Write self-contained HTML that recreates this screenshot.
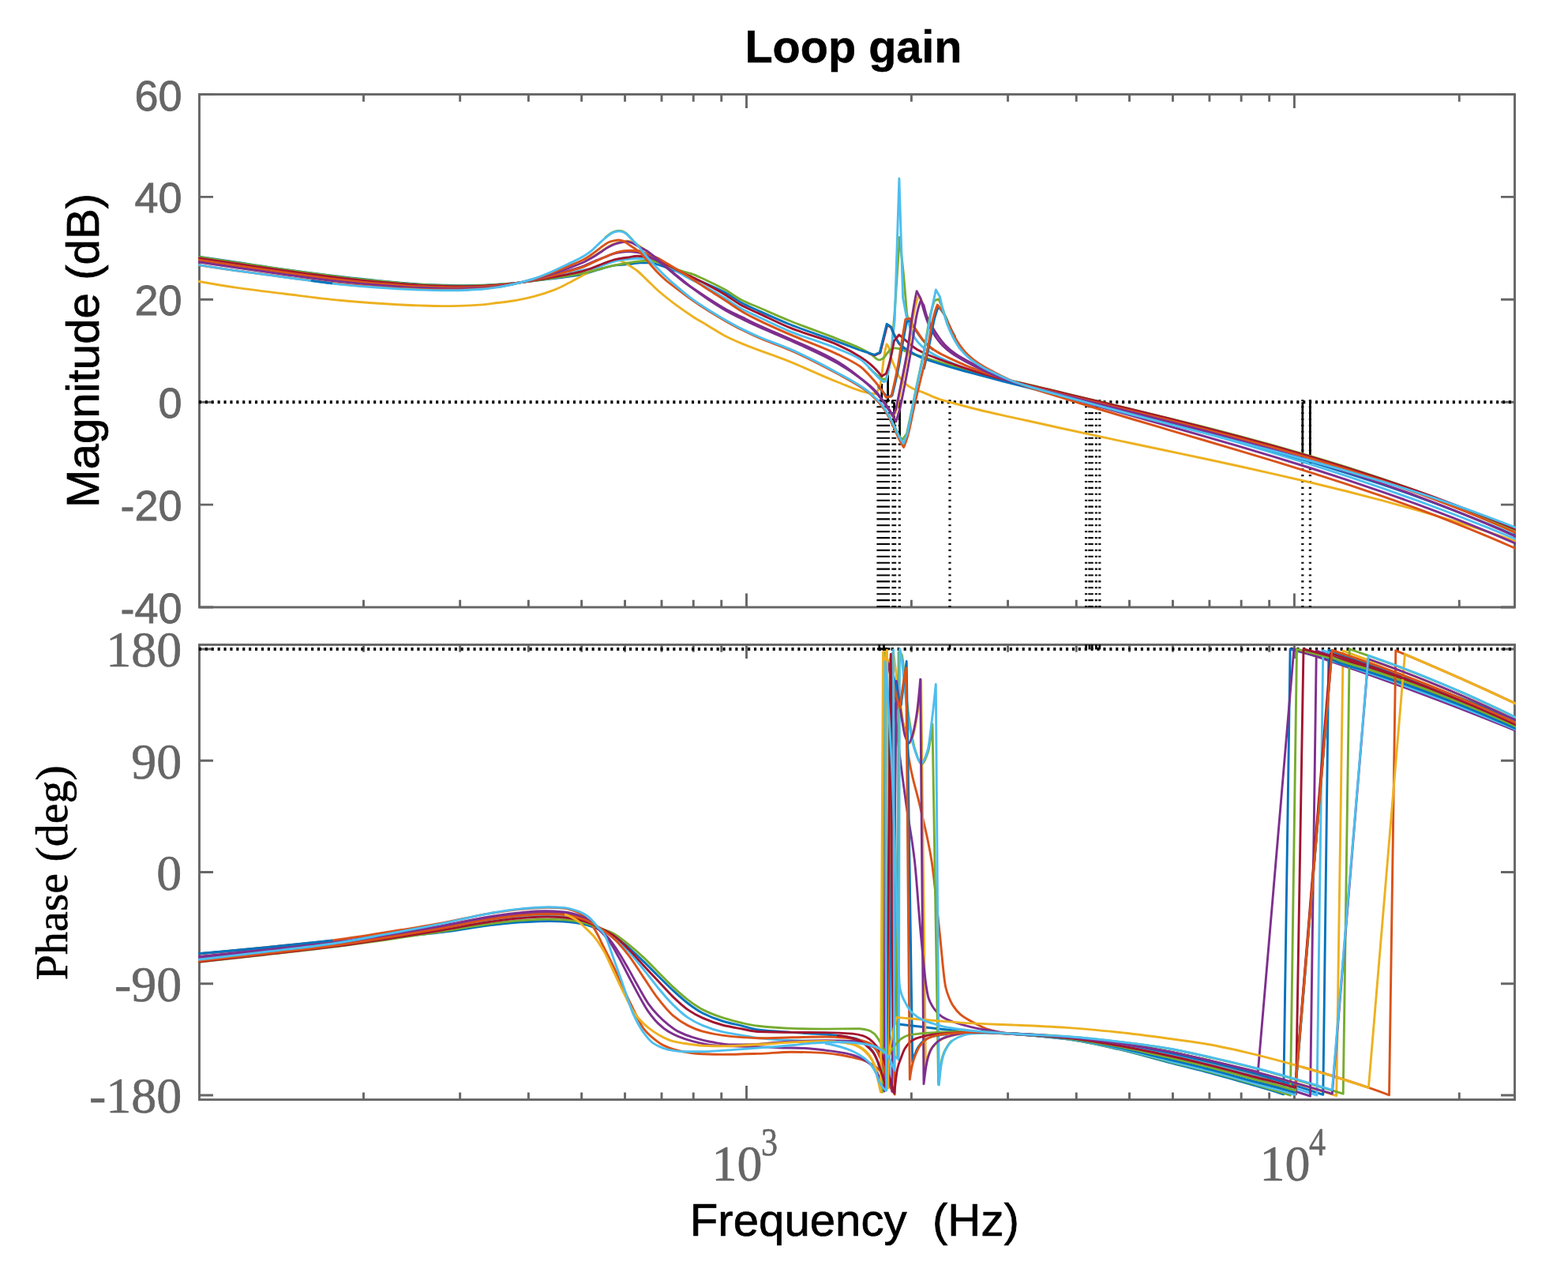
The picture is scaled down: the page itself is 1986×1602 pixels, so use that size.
<!DOCTYPE html>
<html lang="en"><head><meta charset="utf-8"><title>Loop gain</title>
<style>html,body{margin:0;padding:0;background:#fff}body{width:1986px;height:1602px;overflow:hidden}svg{display:block}</style>
</head><body>
<svg xmlns="http://www.w3.org/2000/svg" width="1986" height="1602" viewBox="0 0 1986 1602">
<rect width="1986" height="1602" fill="#fff"/>
<rect x="252.5" y="119.5" width="1666.0" height="649.5" fill="none" stroke="#666666" stroke-width="2.9"/>
<rect x="252.5" y="816.5" width="1666.0" height="576.0999999999999" fill="none" stroke="#666666" stroke-width="2.9"/>
<path d="M460.48 769.0v-9.2M460.48 119.5v9.2M582.67 769.0v-9.2M582.67 119.5v9.2M669.37 769.0v-9.2M669.37 119.5v9.2M736.62 769.0v-9.2M736.62 119.5v9.2M791.56 769.0v-9.2M791.56 119.5v9.2M838.01 769.0v-9.2M838.01 119.5v9.2M878.25 769.0v-9.2M878.25 119.5v9.2M913.75 769.0v-9.2M913.75 119.5v9.2M1154.38 769.0v-9.2M1154.38 119.5v9.2M1276.57 769.0v-9.2M1276.57 119.5v9.2M1363.27 769.0v-9.2M1363.27 119.5v9.2M1430.52 769.0v-9.2M1430.52 119.5v9.2M1485.46 769.0v-9.2M1485.46 119.5v9.2M1531.91 769.0v-9.2M1531.91 119.5v9.2M1572.15 769.0v-9.2M1572.15 119.5v9.2M1607.65 769.0v-9.2M1607.65 119.5v9.2M1848.28 769.0v-9.2M1848.28 119.5v9.2M945.5 769.0v-17.5M945.5 119.5v17.5M1639.4 769.0v-17.5M1639.4 119.5v17.5M460.48 1392.6v-9.2M460.48 816.5v9.2M582.67 1392.6v-9.2M582.67 816.5v9.2M669.37 1392.6v-9.2M669.37 816.5v9.2M736.62 1392.6v-9.2M736.62 816.5v9.2M791.56 1392.6v-9.2M791.56 816.5v9.2M838.01 1392.6v-9.2M838.01 816.5v9.2M878.25 1392.6v-9.2M878.25 816.5v9.2M913.75 1392.6v-9.2M913.75 816.5v9.2M1154.38 1392.6v-9.2M1154.38 816.5v9.2M1276.57 1392.6v-9.2M1276.57 816.5v9.2M1363.27 1392.6v-9.2M1363.27 816.5v9.2M1430.52 1392.6v-9.2M1430.52 816.5v9.2M1485.46 1392.6v-9.2M1485.46 816.5v9.2M1531.91 1392.6v-9.2M1531.91 816.5v9.2M1572.15 1392.6v-9.2M1572.15 816.5v9.2M1607.65 1392.6v-9.2M1607.65 816.5v9.2M1848.28 1392.6v-9.2M1848.28 816.5v9.2M945.5 1392.6v-17.5M945.5 816.5v17.5M1639.4 1392.6v-17.5M1639.4 816.5v17.5M252.5 119.5h17.5M1918.5 119.5h-17.5M252.5 249.4h17.5M1918.5 249.4h-17.5M252.5 379.3h17.5M1918.5 379.3h-17.5M252.5 509.2h17.5M1918.5 509.2h-17.5M252.5 639.1h17.5M1918.5 639.1h-17.5M252.5 769.0h17.5M1918.5 769.0h-17.5M252.5 822.0h17.5M1918.5 822.0h-17.5M252.5 963.25h17.5M1918.5 963.25h-17.5M252.5 1104.5h17.5M1918.5 1104.5h-17.5M252.5 1245.75h17.5M1918.5 1245.75h-17.5M252.5 1387.0h17.5M1918.5 1387.0h-17.5" fill="none" stroke="#666666" stroke-width="2.9"/>
<defs><clipPath id="clipTop"><rect x="251.15" y="118.15" width="1668.7" height="652.2"/></clipPath><clipPath id="clipBot"><rect x="251.15" y="815.15" width="1668.7" height="578.8"/></clipPath></defs>
<g fill="none" stroke="#000">
<path d="M251.90 509.20H1918.5M251.90 822.00H1918.5" stroke-width="4" stroke-dasharray="3.1 4.8"/>
<path d="M1112 506.25V769.0M1114.6 506.25V769.0M1117.2 506.25V769.0M1119.8 506.25V769.0M1122.6 506.25V769.0M1125.4 506.25V769.0M1131 506.25V769.0M1133.6 506.25V769.0M1139.3 506.25V769.0M1203 506.25V769.0M1375.6 506.25V769.0M1379.9 506.25V769.0M1383.2 506.25V769.0M1388.4 506.25V769.0M1392.8 506.25V769.0M1649.8 506.25V769.0M1659.4 506.25V769.0" stroke-width="3.2" stroke-dasharray="2.1 5.8"/>
<path d="M1116.8 486.00V509.20M1124.6 475.00V509.20M1132.5 509.20V545.00M1139.6 509.20V556.00M1649.8 509.20V577.50M1659.4 509.20V580.00" stroke-width="2.7"/>
<path d="M1375.6 816.50V822.60M1379.9 816.50V822.60M1383.2 816.50V822.60M1388.4 816.50V822.60M1392.8 816.50V822.60M1203 816.50V822.60M1113.7 816.5V824.2M1119.5 816.5V824.2" stroke-width="2.7"/>
<path d="M1111 821.80H1127.5" stroke-width="3"/>
</g>
<g clip-path="url(#clipTop)" fill="none" stroke-width="2.9" stroke-linejoin="round" stroke-linecap="butt">
<path d="M250.00 324.90C266.67 327.34 283.33 329.79 300.00 332.25C320.00 335.20 340.00 338.37 360.00 341.13C383.33 344.35 406.67 347.44 430.00 350.18C446.67 352.13 463.33 354.01 480.00 355.60C496.67 357.18 513.33 358.92 530.00 359.84C540.33 360.41 550.67 360.83 561.00 361.16C567.67 361.37 574.33 361.67 581.00 361.67C591.00 361.67 601.00 361.46 611.00 361.22C617.33 361.07 623.67 360.67 630.00 360.29C636.67 359.89 643.33 359.35 650.00 358.72C658.67 357.92 667.33 356.69 676.00 355.66C684.00 354.71 692.00 353.75 700.00 352.78C706.67 351.97 713.33 351.26 720.00 350.34C726.67 349.41 733.33 348.60 740.00 347.11C743.33 346.37 746.67 344.88 750.00 343.90C760.07 340.93 770.13 337.15 780.20 335.90C786.47 335.12 792.73 334.92 799.00 334.30C803.07 333.90 807.13 332.90 811.20 332.90C815.27 332.90 819.33 332.90 823.40 332.90C826.10 332.90 828.80 333.91 831.50 334.60C834.20 335.29 836.90 336.27 839.60 337.20C842.30 338.13 845.00 339.18 847.70 340.20C852.57 342.03 857.43 343.87 862.30 345.80C871.70 349.53 881.10 353.38 890.50 357.50C899.90 361.62 909.30 365.55 918.70 370.60C925.73 374.38 932.77 380.05 939.80 383.80C946.53 387.39 953.27 390.16 960.00 393.20C973.60 399.35 987.20 405.60 1000.80 411.00C1020.97 419.01 1041.13 425.32 1061.30 432.80C1070.87 436.35 1080.43 440.01 1090.00 443.70" stroke="#0072BD"/>
<path d="M250.00 356.10C266.67 359.16 283.33 362.00 300.00 364.40C320.00 367.29 340.00 369.55 360.00 372.00C383.33 374.86 406.67 378.09 430.00 380.30C446.67 381.88 463.33 383.25 480.00 384.30C496.67 385.35 513.33 386.39 530.00 386.90C540.33 387.22 550.67 387.60 561.00 387.60C567.67 387.60 574.33 387.51 581.00 387.40C591.00 387.24 601.00 386.64 611.00 385.90C617.33 385.43 623.67 384.30 630.00 383.50C636.67 382.66 643.33 382.04 650.00 381.00C658.80 379.63 667.60 377.66 676.40 375.40C685.13 373.16 693.87 370.33 702.60 366.90C708.43 364.61 714.27 361.47 720.10 358.50C726.83 355.07 733.57 351.18 740.30 347.50C747.00 343.84 753.70 340.00 760.40 336.50C763.77 334.74 767.13 332.42 770.50 331.40C773.53 330.48 776.57 329.40 779.60 329.40C781.73 329.40 783.87 329.76 786.00 330.20C787.53 330.51 789.07 331.60 790.60 332.40C792.07 333.16 793.53 334.01 795.00 334.90C799.07 337.36 803.13 339.83 807.20 343.00C811.23 346.14 815.27 350.58 819.30 354.40C824.23 359.07 829.17 364.18 834.10 368.50C841.13 374.65 848.17 380.15 855.20 385.40C862.27 390.67 869.33 395.63 876.40 400.20C883.43 404.75 890.47 408.67 897.50 412.90C904.33 417.01 911.17 421.65 918.00 425.20C925.47 429.07 932.93 432.27 940.40 435.40C960.53 443.83 980.67 450.14 1000.80 458.20C1020.97 466.28 1041.13 476.16 1061.30 484.00C1073.37 488.69 1085.43 494.62 1097.50 497.10C1101.53 497.93 1105.57 498.57 1109.60 499.00L1115.00 487.40C1115.60 483.41 1116.20 479.28 1116.80 474.90C1117.87 467.11 1118.93 456.12 1120.00 450.00C1121.03 444.08 1122.07 438.96 1123.10 435.90L1126.20 440.60C1127.03 445.42 1127.87 450.12 1128.70 453.00C1130.37 458.75 1132.03 461.54 1133.70 465.50C1135.37 469.46 1137.03 474.19 1138.70 476.80C1141.20 480.72 1143.70 483.36 1146.20 485.50C1149.30 488.15 1152.40 490.15 1155.50 491.70C1160.33 494.11 1165.17 495.37 1170.00 497.30C1176.67 499.96 1183.33 503.38 1190.00 505.60C1194.33 507.04 1198.67 508.11 1203.00 509.30C1215.33 512.69 1227.67 515.99 1240.00 519.00C1253.33 522.25 1266.67 525.12 1280.00 528.10C1286.67 529.59 1293.33 531.03 1300.00 532.50C1315.00 535.81 1330.00 539.21 1345.00 542.49C1360.00 545.77 1375.00 548.98 1390.00 552.19C1405.00 555.40 1420.00 558.55 1435.00 561.73C1450.00 564.90 1465.00 568.04 1480.00 571.21C1495.00 574.39 1510.00 577.55 1525.00 580.77C1540.00 583.99 1555.00 587.22 1570.00 590.51C1585.00 593.81 1600.00 597.14 1615.00 600.56C1630.00 603.97 1645.00 607.45 1660.00 611.02C1675.00 614.60 1690.00 618.25 1705.00 622.02C1720.00 625.79 1735.00 629.66 1750.00 633.67C1765.00 637.68 1780.00 641.81 1795.00 646.09C1810.00 650.38 1825.00 654.81 1840.00 659.40C1855.00 664.00 1870.00 668.78 1885.00 673.72C1897.00 677.67 1909.00 681.77 1921.00 685.97" stroke="#EDB120"/>
<path d="M1100.00 465.00C1104.00 469.30 1108.00 472.94 1112.00 476.00C1114.23 477.71 1116.47 479.20 1118.70 480.50L1122.50 479.50L1128.00 457.00L1133.40 392.00L1139.40 300.50L1144.70 350.00L1148.60 397.00C1149.90 403.37 1151.20 409.23 1152.50 413.00C1154.33 418.31 1156.17 423.06 1158.00 425.00" stroke="#77AC30"/>
<path d="M250.00 327.00C266.67 329.51 283.33 332.00 300.00 334.45C320.00 337.40 340.00 340.46 360.00 343.21C383.33 346.42 406.67 349.64 430.00 352.31C446.67 354.22 463.33 356.00 480.00 357.49C496.67 358.98 513.33 360.59 530.00 361.42C540.33 361.94 550.67 362.35 561.00 362.62C567.67 362.79 574.33 363.03 581.00 363.03C591.00 363.03 601.00 362.69 611.00 362.35C617.33 362.13 623.67 361.62 630.00 361.11C636.67 360.58 643.33 359.84 650.00 359.02C658.67 357.95 667.33 356.50 676.00 355.05C684.00 353.71 692.00 352.19 700.00 350.64C706.67 349.35 713.33 348.05 720.00 346.57C726.67 345.10 733.33 342.81 740.00 341.71C743.33 341.16 746.67 340.98 750.00 340.40C760.00 338.65 770.00 332.38 780.00 330.50C785.00 329.56 790.00 328.97 795.00 328.40C799.07 327.93 803.13 327.20 807.20 327.20C811.23 327.20 815.27 327.36 819.30 327.60C822.03 327.76 824.77 328.52 827.50 329.20C830.20 329.87 832.90 330.93 835.60 332.00C840.40 333.90 845.20 336.33 850.00 338.90C856.00 342.11 862.00 346.53 868.00 349.90C875.50 354.11 883.00 357.43 890.50 361.50C899.90 366.60 909.30 371.97 918.70 377.70C925.73 381.98 932.77 387.43 939.80 391.30C946.53 395.00 953.27 397.83 960.00 401.00C973.60 407.41 987.20 414.23 1000.80 419.80C1020.97 428.06 1041.13 433.37 1061.30 441.80C1070.87 445.80 1080.43 449.11 1090.00 455.40C1094.17 458.14 1098.33 462.94 1102.50 467.10C1106.67 471.26 1110.83 477.02 1115.00 480.50C1116.43 481.70 1117.87 482.70 1119.30 483.60L1122.40 482.40L1127.50 460.00L1133.20 405.00L1138.90 226.00L1143.60 377.00L1148.40 402.40C1149.67 406.50 1150.93 410.34 1152.20 413.70C1153.77 417.86 1155.33 422.04 1156.90 424.90C1159.07 428.85 1161.23 431.87 1163.40 434.30C1166.53 437.81 1169.67 440.42 1172.80 442.70C1177.47 446.09 1182.13 448.67 1186.80 451.10C1193.03 454.35 1199.27 456.93 1205.50 459.60C1213.67 463.10 1221.83 466.59 1230.00 469.50C1240.00 473.07 1250.00 476.12 1260.00 479.00C1273.33 482.84 1286.67 486.10 1300.00 489.50C1315.00 493.33 1330.00 496.90 1345.00 500.65C1360.00 504.41 1375.00 508.19 1390.00 512.02C1405.00 515.86 1420.00 519.74 1435.00 523.68C1450.00 527.62 1465.00 531.60 1480.00 535.66C1495.00 539.72 1510.00 543.84 1525.00 548.05C1540.00 552.25 1555.00 556.52 1570.00 560.89C1585.00 565.25 1600.00 569.69 1615.00 574.24C1630.00 578.78 1645.00 583.42 1660.00 588.16C1675.00 592.90 1690.00 597.75 1705.00 602.71C1720.00 607.68 1735.00 612.76 1750.00 617.96C1765.00 623.16 1780.00 628.49 1795.00 633.95C1810.00 639.41 1825.00 645.01 1840.00 650.75C1855.00 656.49 1870.00 662.38 1885.00 668.41C1897.00 673.23 1909.00 678.17 1921.00 683.20" stroke="#4DBEEE"/>
<path d="M250.00 325.20C266.67 327.66 283.33 330.13 300.00 332.60C320.00 335.56 340.00 338.72 360.00 341.50C383.33 344.74 406.67 347.86 430.00 350.60C446.67 352.56 463.33 354.43 480.00 356.00C496.67 357.57 513.33 359.29 530.00 360.20C540.33 360.76 550.67 361.18 561.00 361.50C567.67 361.71 574.33 362.00 581.00 362.00C591.00 362.00 601.00 361.76 611.00 361.50C617.33 361.33 623.67 360.91 630.00 360.50C636.67 360.07 643.33 359.47 650.00 358.80C658.67 357.93 667.33 356.64 676.00 355.50C684.00 354.44 692.00 353.33 700.00 352.20C706.67 351.26 713.33 350.38 720.00 349.30C726.67 348.22 733.33 346.95 740.00 345.60C743.33 344.92 746.67 344.21 750.00 343.40C755.00 342.19 760.00 340.58 765.00 339.30C770.00 338.02 775.00 336.73 780.00 335.70C785.00 334.67 790.00 333.81 795.00 333.00C799.07 332.34 803.13 331.60 807.20 331.20C811.23 330.80 815.27 330.30 819.30 330.30C822.03 330.30 824.77 330.53 827.50 330.80C830.20 331.07 832.90 332.10 835.60 332.90C838.30 333.70 841.00 334.71 843.70 335.70C847.77 337.19 851.83 338.95 855.90 340.50C858.60 341.53 861.30 342.65 864.00 343.50C867.67 344.66 871.33 345.30 875.00 346.50C880.17 348.19 885.33 350.66 890.50 353.00C899.90 357.25 909.30 361.85 918.70 367.10C925.73 371.03 932.77 376.72 939.80 380.30C946.53 383.73 953.27 386.11 960.00 389.00C973.60 394.85 987.20 401.00 1000.80 406.50C1020.97 414.66 1041.13 421.53 1061.30 429.50C1070.87 433.28 1080.43 436.66 1090.00 441.20C1094.17 443.18 1098.33 445.43 1102.50 448.00C1106.23 450.30 1109.97 455.90 1113.70 455.90C1115.37 455.90 1117.03 454.79 1118.70 453.70C1120.37 452.61 1122.03 449.26 1123.70 447.40C1125.37 445.54 1127.03 443.17 1128.70 442.40C1130.37 441.63 1132.03 440.90 1133.70 440.90C1135.77 440.90 1137.83 441.35 1139.90 441.80C1142.00 442.26 1144.10 443.71 1146.20 444.60C1148.27 445.47 1150.33 446.37 1152.40 447.10C1158.27 449.17 1164.13 450.59 1170.00 452.40C1175.60 454.13 1181.20 455.99 1186.80 457.70C1196.17 460.57 1205.53 463.37 1214.90 466.00C1224.27 468.63 1233.63 471.17 1243.00 473.50C1252.33 475.82 1261.67 477.90 1271.00 480.00C1280.67 482.17 1290.33 484.10 1300.00 486.30C1315.00 489.71 1330.00 493.55 1345.00 497.15C1360.00 500.74 1375.00 504.30 1390.00 507.88C1405.00 511.46 1420.00 515.03 1435.00 518.64C1450.00 522.26 1465.00 525.87 1480.00 529.56C1495.00 533.25 1510.00 536.97 1525.00 540.78C1540.00 544.59 1555.00 548.46 1570.00 552.44C1585.00 556.41 1600.00 560.47 1615.00 564.66C1630.00 568.84 1645.00 573.14 1660.00 577.58C1675.00 582.02 1690.00 586.60 1705.00 591.34C1720.00 596.09 1735.00 600.99 1750.00 606.08C1765.00 611.17 1780.00 616.45 1795.00 621.93C1810.00 627.42 1825.00 633.11 1840.00 639.03C1855.00 644.95 1870.00 651.12 1885.00 657.51C1897.00 662.62 1909.00 667.93 1921.00 673.38" stroke="#77AC30"/>
<path d="M1100.00 447.30L1107.90 450.00L1114.90 446.60L1123.80 411.30L1128.80 414.80C1130.63 419.69 1132.47 424.06 1134.30 427.50C1136.20 431.07 1138.10 434.53 1140.00 436.50C1142.33 438.92 1144.67 441.09 1147.00 441.80" stroke="#A2142F"/>
<path d="M1090.00 443.70L1107.50 449.30L1114.30 446.20L1123.10 410.30L1128.10 413.40C1129.97 418.23 1131.83 422.59 1133.70 426.20C1135.57 429.81 1137.43 433.53 1139.30 435.60C1141.60 438.15 1143.90 439.62 1146.20 441.20C1148.27 442.62 1150.33 443.70 1152.40 444.90C1156.07 447.03 1159.73 449.44 1163.40 451.10C1171.20 454.64 1179.00 457.03 1186.80 459.60C1196.17 462.68 1205.53 465.36 1214.90 468.00C1224.27 470.64 1233.63 473.00 1243.00 475.50C1252.37 478.00 1261.73 480.55 1271.10 483.00C1280.73 485.52 1290.37 487.96 1300.00 490.40C1315.00 494.20 1330.00 497.94 1345.00 501.69C1360.00 505.44 1375.00 509.16 1390.00 512.90C1405.00 516.64 1420.00 520.37 1435.00 524.15C1450.00 527.92 1465.00 531.70 1480.00 535.54C1495.00 539.39 1510.00 543.26 1525.00 547.21C1540.00 551.15 1555.00 555.15 1570.00 559.24C1585.00 563.34 1600.00 567.50 1615.00 571.78C1630.00 576.05 1645.00 580.42 1660.00 584.92C1675.00 589.41 1690.00 594.02 1705.00 598.77C1720.00 603.53 1735.00 608.42 1750.00 613.47C1765.00 618.52 1780.00 623.72 1795.00 629.11C1810.00 634.49 1825.00 640.05 1840.00 645.81C1855.00 651.57 1870.00 657.53 1885.00 663.69C1897.00 668.61 1909.00 673.70 1921.00 678.91" stroke="#0072BD"/>
<path d="M250.00 326.50C266.67 329.00 283.33 331.48 300.00 333.94C320.00 336.89 340.00 339.97 360.00 342.74C383.33 345.96 406.67 349.14 430.00 351.84C446.67 353.76 463.33 355.57 480.00 357.08C496.67 358.59 513.33 360.23 530.00 361.08C540.33 361.62 550.67 362.02 561.00 362.31C567.67 362.49 574.33 362.74 581.00 362.74C591.00 362.74 601.00 362.44 611.00 362.11C617.33 361.91 623.67 361.42 630.00 360.94C636.67 360.44 643.33 359.74 650.00 358.96C658.67 357.94 667.33 356.54 676.00 355.18C684.00 353.92 692.00 352.50 700.00 351.07C706.67 349.88 713.33 348.70 720.00 347.33C726.67 345.96 733.33 344.65 740.00 342.79C743.33 341.87 746.67 340.61 750.00 339.40C755.03 337.57 760.07 335.24 765.10 333.40C770.13 331.56 775.17 329.37 780.20 328.30C785.13 327.25 790.07 326.72 795.00 326.00C799.07 325.40 803.13 324.30 807.20 324.30C809.90 324.30 812.60 324.48 815.30 324.70C818.00 324.92 820.70 325.69 823.40 326.40C826.10 327.11 828.80 328.17 831.50 329.20C835.57 330.75 839.63 332.55 843.70 334.50C847.77 336.45 851.83 338.89 855.90 341.00C859.93 343.09 863.97 345.21 868.00 347.10C870.80 348.41 873.60 349.49 876.40 350.80C883.43 354.08 890.47 357.75 897.50 361.50C904.57 365.27 911.63 369.16 918.70 373.40C925.73 377.62 932.77 383.20 939.80 387.00C946.53 390.63 953.27 393.28 960.00 396.40C973.60 402.70 987.20 409.68 1000.80 415.20C1020.97 423.38 1041.13 427.97 1061.30 436.80C1070.87 440.99 1080.43 446.03 1090.00 452.10C1094.17 454.75 1098.33 457.79 1102.50 461.40C1107.27 465.53 1112.03 470.62 1116.80 476.40L1122.40 473.00C1124.07 468.67 1125.73 462.83 1127.40 456.20C1129.07 449.57 1130.73 441.20 1132.40 431.80L1138.70 424.00C1140.13 425.15 1141.57 426.30 1143.00 427.50C1146.13 430.11 1149.27 432.96 1152.40 435.60C1154.50 437.37 1156.60 439.40 1158.70 440.80C1163.40 443.93 1168.10 446.15 1172.80 448.30C1177.47 450.43 1182.13 452.14 1186.80 453.90C1193.03 456.24 1199.27 458.36 1205.50 460.50C1214.87 463.72 1224.23 467.00 1233.60 469.90C1242.40 472.62 1251.20 475.22 1260.00 477.50C1273.33 480.96 1286.67 483.68 1300.00 486.80C1315.00 490.31 1330.00 493.88 1345.00 497.43C1360.00 500.98 1375.00 504.52 1390.00 508.10C1405.00 511.68 1420.00 515.27 1435.00 518.91C1450.00 522.55 1465.00 526.22 1480.00 529.96C1495.00 533.69 1510.00 537.47 1525.00 541.33C1540.00 545.20 1555.00 549.12 1570.00 553.14C1585.00 557.16 1600.00 561.26 1615.00 565.47C1630.00 569.68 1645.00 573.99 1660.00 578.42C1675.00 582.86 1690.00 587.40 1705.00 592.09C1720.00 596.78 1735.00 601.61 1750.00 606.58C1765.00 611.56 1780.00 616.69 1795.00 621.98C1810.00 627.28 1825.00 632.75 1840.00 638.40C1855.00 644.05 1870.00 649.89 1885.00 655.91C1897.00 660.73 1909.00 665.71 1921.00 670.79" stroke="#A2142F"/>
<path d="M250.00 329.40C266.67 331.97 283.33 334.48 300.00 336.93C320.00 339.86 340.00 342.77 360.00 345.49C383.33 348.67 406.67 352.00 430.00 354.59C446.67 356.44 463.33 358.11 480.00 359.49C496.67 360.86 513.33 362.31 530.00 363.06C540.33 363.52 550.67 363.90 561.00 364.10C567.67 364.24 574.33 364.39 581.00 364.39C591.00 364.39 601.00 363.94 611.00 363.47C617.33 363.18 623.67 362.56 630.00 361.93C636.67 361.26 643.33 360.32 650.00 359.30C658.67 357.98 667.33 356.29 676.00 354.45C684.00 352.75 692.00 350.66 700.00 348.56C706.67 346.81 713.33 344.94 720.00 342.94C726.67 340.94 733.33 339.03 740.00 336.53C743.33 335.28 746.67 333.61 750.00 332.20C755.00 330.08 760.00 327.93 765.00 326.00C770.07 324.04 775.13 321.50 780.20 320.50C785.13 319.53 790.07 318.50 795.00 318.50C799.07 318.50 803.13 318.97 807.20 319.50C809.80 319.84 812.40 320.66 815.00 321.50C817.33 322.25 819.67 323.42 822.00 324.50C824.67 325.73 827.33 326.95 830.00 328.50C833.33 330.43 836.67 332.80 840.00 335.50" stroke="#7E2F8E"/>
<path d="M1112.00 489.00L1124.00 503.00L1130.00 501.00C1131.67 494.51 1133.33 487.45 1135.00 480.00C1136.33 474.04 1137.67 468.04 1139.00 461.00C1140.67 452.20 1142.33 440.40 1144.00 431.00C1145.50 422.54 1147.00 414.53 1148.50 407.00L1153.60 406.60C1154.90 409.21 1156.20 411.69 1157.50 414.00C1159.00 416.67 1160.50 419.29 1162.00 421.50C1165.33 426.41 1168.67 430.85 1172.00 434.30C1175.33 437.75 1178.67 440.78 1182.00 443.00" stroke="#0072BD"/>
<path d="M250.00 328.90C266.67 331.46 283.33 333.96 300.00 336.41C320.00 339.35 340.00 342.28 360.00 345.01C383.33 348.20 406.67 351.51 430.00 354.12C446.67 355.98 463.33 357.67 480.00 359.07C496.67 360.47 513.33 361.95 530.00 362.72C540.33 363.19 550.67 363.58 561.00 363.79C567.67 363.93 574.33 364.11 581.00 364.11C591.00 364.11 601.00 363.68 611.00 363.24C617.33 362.96 623.67 362.37 630.00 361.76C636.67 361.12 643.33 360.22 650.00 359.24C658.67 357.97 667.33 356.33 676.00 354.57C684.00 352.95 692.00 350.98 700.00 348.99C706.67 347.34 713.33 345.59 720.00 343.70C726.67 341.81 733.33 340.13 740.00 337.61C743.33 336.35 746.67 334.44 750.00 332.90C753.37 331.34 756.73 329.82 760.10 328.30C763.43 326.79 766.77 325.20 770.10 323.80C773.47 322.38 776.83 320.75 780.20 319.80C783.57 318.85 786.93 317.88 790.30 317.60C792.80 317.39 795.30 317.20 797.80 317.20C800.93 317.20 804.07 317.31 807.20 317.50C809.23 317.62 811.27 318.49 813.30 319.10C816.67 320.10 820.03 321.42 823.40 322.70C826.10 323.73 828.80 324.74 831.50 326.00C834.20 327.26 836.90 328.85 839.60 330.40C842.30 331.95 845.00 333.68 847.70 335.30C850.43 336.94 853.17 338.57 855.90 340.20C858.60 341.81 861.30 343.32 864.00 345.00C868.13 347.57 872.27 350.47 876.40 353.20C883.43 357.84 890.47 362.56 897.50 367.10C904.57 371.66 911.63 375.94 918.70 380.50C925.73 385.04 932.77 390.27 939.80 394.40C946.53 398.35 953.27 401.77 960.00 405.10C973.60 411.82 987.20 417.76 1000.80 423.70C1020.97 432.50 1041.13 439.24 1061.30 448.90C1070.87 453.48 1080.43 457.54 1090.00 464.50C1094.17 467.53 1098.33 472.31 1102.50 476.80C1106.67 481.29 1110.83 486.01 1115.00 491.70C1117.50 495.12 1120.00 499.15 1122.50 503.40L1128.70 502.20C1130.37 495.89 1132.03 488.70 1133.70 481.00C1134.93 475.30 1136.17 469.23 1137.40 462.40C1139.07 453.17 1140.73 441.47 1142.40 431.20C1143.87 422.16 1145.33 413.23 1146.80 404.40L1152.40 403.10C1153.63 405.79 1154.87 408.33 1156.10 410.60C1157.57 413.30 1159.03 415.69 1160.50 418.00C1163.67 422.98 1166.83 428.17 1170.00 431.80C1172.50 434.67 1175.00 436.97 1177.50 439.00C1180.60 441.52 1183.70 443.65 1186.80 445.50C1193.03 449.21 1199.27 451.95 1205.50 454.90C1211.77 457.86 1218.03 460.76 1224.30 463.30C1233.67 467.10 1243.03 470.37 1252.40 473.60C1259.93 476.20 1267.47 478.72 1275.00 481.00C1283.33 483.52 1291.67 485.81 1300.00 488.00C1315.00 491.95 1330.00 495.39 1345.00 499.05C1360.00 502.71 1375.00 506.33 1390.00 509.97C1405.00 513.61 1420.00 517.23 1435.00 520.90C1450.00 524.56 1465.00 528.23 1480.00 531.97C1495.00 535.70 1510.00 539.46 1525.00 543.31C1540.00 547.15 1555.00 551.05 1570.00 555.05C1585.00 559.05 1600.00 563.13 1615.00 567.33C1630.00 571.53 1645.00 575.83 1660.00 580.28C1675.00 584.73 1690.00 589.30 1705.00 594.03C1720.00 598.77 1735.00 603.65 1750.00 608.72C1765.00 613.79 1780.00 619.03 1795.00 624.48C1810.00 629.92 1825.00 635.57 1840.00 641.43C1855.00 647.30 1870.00 653.40 1885.00 659.72C1897.00 664.77 1909.00 670.01 1921.00 675.39" stroke="#D95319"/>
<path d="M740.00 331.30C743.33 329.52 746.67 327.61 750.00 325.60C753.37 323.56 756.73 321.29 760.10 319.10C763.43 316.93 766.77 314.27 770.10 312.50C773.47 310.71 776.83 309.10 780.20 308.00C782.73 307.17 785.27 306.44 787.80 306.00C789.80 305.65 791.80 305.20 793.80 305.20C796.00 305.20 798.20 305.75 800.40 306.30C802.27 306.77 804.13 307.95 806.00 309.00C808.33 310.31 810.67 312.17 813.00 313.80C815.67 315.66 818.33 317.56 821.00 319.50" stroke="#EDB120"/>
<path d="M1120.00 509.00L1131.50 527.50L1136.00 518.00C1138.17 507.82 1140.33 497.23 1142.50 486.20C1145.17 472.62 1147.83 459.45 1150.50 443.60C1152.83 429.73 1155.17 408.05 1157.50 396.80C1159.40 387.64 1161.30 379.83 1163.20 375.00L1168.00 382.00C1169.67 388.96 1171.33 395.25 1173.00 400.00C1175.00 405.70 1177.00 410.13 1179.00 414.00C1181.33 418.52 1183.67 422.53 1186.00 425.50" stroke="#EDB120"/>
<path d="M840.00 335.50C843.93 338.79 847.87 342.06 851.80 345.30C857.20 349.74 862.60 354.50 868.00 358.50C870.80 360.57 873.60 362.41 876.40 364.30C883.43 369.04 890.47 373.63 897.50 378.10C904.57 382.59 911.63 387.33 918.70 391.20C925.73 395.06 932.77 398.14 939.80 401.60C946.53 404.91 953.27 408.37 960.00 411.50C973.60 417.82 987.20 423.11 1000.80 429.30C1020.97 438.48 1041.13 446.27 1061.30 458.30C1073.37 465.50 1085.43 474.93 1097.50 485.50C1102.33 489.73 1107.17 494.38 1112.00 500.00C1116.00 504.65 1120.00 510.62 1124.00 516.50C1127.63 521.85 1131.27 527.62 1134.90 533.70L1139.90 517.50C1142.00 507.53 1144.10 497.11 1146.20 486.20C1148.80 472.69 1151.40 458.75 1154.00 443.60C1156.50 429.03 1159.00 407.52 1161.50 396.80C1163.07 390.08 1164.63 384.48 1166.20 380.90L1170.00 386.50C1171.53 392.80 1173.07 398.59 1174.60 402.40C1176.73 407.70 1178.87 410.83 1181.00 414.50C1183.33 418.51 1185.67 422.23 1188.00 425.50C1191.33 430.17 1194.67 434.65 1198.00 438.00C1202.00 442.02 1206.00 445.22 1210.00 448.00C1216.00 452.17 1222.00 455.27 1228.00 458.50C1234.33 461.91 1240.67 465.03 1247.00 468.00C1255.33 471.91 1263.67 475.80 1272.00 479.00C1281.33 482.58 1290.67 485.76 1300.00 488.50C1315.00 492.91 1330.00 496.15 1345.00 499.93C1360.00 503.72 1375.00 507.45 1390.00 511.21C1405.00 514.97 1420.00 518.70 1435.00 522.48C1450.00 526.25 1465.00 530.03 1480.00 533.86C1495.00 537.70 1510.00 541.56 1525.00 545.50C1540.00 549.45 1555.00 553.44 1570.00 557.53C1585.00 561.63 1600.00 565.80 1615.00 570.09C1630.00 574.39 1645.00 578.78 1660.00 583.31C1675.00 587.85 1690.00 592.51 1705.00 597.33C1720.00 602.16 1735.00 607.13 1750.00 612.29C1765.00 617.44 1780.00 622.78 1795.00 628.31C1810.00 633.85 1825.00 639.58 1840.00 645.54C1855.00 651.50 1870.00 657.70 1885.00 664.11C1897.00 669.24 1909.00 674.56 1921.00 680.02" stroke="#7E2F8E"/>
<path d="M250.00 331.60C266.67 334.22 283.33 336.76 300.00 339.19C320.00 342.11 340.00 344.88 360.00 347.58C383.33 350.73 406.67 354.18 430.00 356.68C446.67 358.47 463.33 360.04 480.00 361.31C496.67 362.58 513.33 363.89 530.00 364.55C540.33 364.96 550.67 365.33 561.00 365.47C567.67 365.56 574.33 365.65 581.00 365.65C591.00 365.65 601.00 365.07 611.00 364.51C617.33 364.15 623.67 363.43 630.00 362.68C636.67 361.88 643.33 360.77 650.00 359.57C658.67 358.01 667.33 356.10 676.00 353.90C684.00 351.87 692.00 349.26 700.00 346.65C706.67 344.48 713.33 342.08 720.00 339.61C726.67 337.14 733.33 334.88 740.00 331.78C743.33 330.23 746.67 328.27 750.00 326.30C753.37 324.31 756.73 321.99 760.10 319.80C763.43 317.63 766.77 314.97 770.10 313.20C773.47 311.41 776.83 309.80 780.20 308.70C782.73 307.87 785.27 307.14 787.80 306.70C789.80 306.35 791.80 305.90 793.80 305.90C795.87 305.90 797.93 306.71 800.00 307.40C801.03 307.75 802.07 308.37 803.10 308.90C805.80 310.28 808.50 311.92 811.20 313.40C813.90 314.88 816.60 316.11 819.30 317.80C822.03 319.52 824.77 321.73 827.50 323.90C830.20 326.04 832.90 328.50 835.60 330.80C838.30 333.10 841.00 335.40 843.70 337.70C846.40 340.00 849.10 342.37 851.80 344.60C854.50 346.83 857.20 348.93 859.90 351.10C862.60 353.27 865.30 355.42 868.00 357.60C870.80 359.86 873.60 362.25 876.40 364.40C883.43 369.81 890.47 374.88 897.50 379.60C904.57 384.34 911.63 388.88 918.70 392.90C925.73 396.90 932.77 400.40 939.80 403.90C946.53 407.25 953.27 410.45 960.00 413.50C973.60 419.67 987.20 424.84 1000.80 431.00C1020.97 440.14 1041.13 448.80 1061.30 460.30C1071.90 466.35 1082.50 473.40 1093.10 481.50C1098.30 485.48 1103.50 489.56 1108.70 495.00C1112.87 499.36 1117.03 505.33 1121.20 511.20C1124.53 515.89 1127.87 521.05 1131.20 526.50L1134.90 517.50C1137.00 507.27 1139.10 496.86 1141.20 486.20C1143.93 472.33 1146.67 460.20 1149.40 443.60C1151.57 430.44 1153.73 410.11 1155.90 396.80C1157.63 386.15 1159.37 376.68 1161.10 368.70L1166.20 378.10C1168.07 385.94 1169.93 392.97 1171.80 398.70C1173.70 404.53 1175.60 409.73 1177.50 413.70C1179.67 418.23 1181.83 421.69 1184.00 424.90C1187.43 429.98 1190.87 434.52 1194.30 438.00C1198.03 441.79 1201.77 444.76 1205.50 447.40C1211.77 451.83 1218.03 455.18 1224.30 458.60C1230.53 462.00 1236.77 465.11 1243.00 468.00C1252.00 472.17 1261.00 476.22 1270.00 479.50C1280.00 483.14 1290.00 486.00 1300.00 489.00C1315.00 493.50 1330.00 497.53 1345.00 501.75C1360.00 505.98 1375.00 510.16 1390.00 514.35C1405.00 518.54 1420.00 522.71 1435.00 526.91C1450.00 531.10 1465.00 535.29 1480.00 539.52C1495.00 543.76 1510.00 548.00 1525.00 552.31C1540.00 556.61 1555.00 560.95 1570.00 565.37C1585.00 569.79 1600.00 574.25 1615.00 578.82C1630.00 583.38 1645.00 588.01 1660.00 592.76C1675.00 597.50 1690.00 602.33 1705.00 607.30C1720.00 612.26 1735.00 617.33 1750.00 622.54C1765.00 627.76 1780.00 633.10 1795.00 638.61C1810.00 644.11 1825.00 649.76 1840.00 655.59C1855.00 661.42 1870.00 667.43 1885.00 673.60C1897.00 678.54 1909.00 683.63 1921.00 688.83" stroke="#7E2F8E"/>
<path d="M1170.00 468.00C1172.67 456.93 1175.33 444.79 1178.00 432.00C1179.83 423.21 1181.67 410.88 1183.50 404.00C1185.23 397.50 1186.97 391.89 1188.70 388.50L1192.50 393.00C1194.17 395.13 1195.83 397.88 1197.50 401.00C1199.33 404.43 1201.17 409.66 1203.00 413.50C1205.33 418.38 1207.67 422.95 1210.00 427.00" stroke="#0072BD"/>
<path d="M250.00 335.40C266.67 338.03 283.33 340.54 300.00 342.87C320.00 345.67 340.00 348.16 360.00 350.72C383.33 353.71 406.67 357.24 430.00 359.52C446.67 361.15 463.33 362.53 480.00 363.61C496.67 364.69 513.33 365.78 530.00 366.28C540.33 366.59 550.67 366.95 561.00 366.96C567.67 366.96 574.33 366.97 581.00 366.97C591.00 366.97 601.00 366.22 611.00 365.53C617.33 365.09 623.67 364.26 630.00 363.39C636.67 362.47 643.33 361.18 650.00 359.81C658.67 358.03 667.33 355.92 676.00 353.43C684.00 351.12 692.00 348.09 700.00 345.11C706.67 342.62 713.33 339.84 720.00 337.05C726.67 334.26 733.33 331.88 740.00 328.32C743.33 326.54 746.67 324.13 750.00 321.80C753.37 319.45 756.73 316.64 760.10 314.20C763.43 311.78 766.77 308.71 770.10 307.20C771.80 306.43 773.50 305.83 775.20 305.40C776.87 304.97 778.53 304.68 780.20 304.40C781.37 304.21 782.53 303.90 783.70 303.90C785.07 303.90 786.43 304.32 787.80 304.70C789.47 305.16 791.13 306.23 792.80 307.20C794.47 308.17 796.13 309.57 797.80 310.70C800.23 312.35 802.67 313.77 805.10 315.50C807.13 316.95 809.17 318.35 811.20 320.20C813.80 322.56 816.40 325.96 819.00 329.00C821.33 331.73 823.67 334.82 826.00 337.50C828.70 340.60 831.40 343.59 834.10 346.30C837.40 349.61 840.70 352.74 844.00 355.50C847.97 358.82 851.93 361.52 855.90 364.50C862.73 369.64 869.57 375.00 876.40 379.80C883.43 384.74 890.47 389.39 897.50 393.80C904.57 398.23 911.63 402.40 918.70 406.40C925.73 410.38 932.77 414.29 939.80 417.80C946.53 421.17 953.27 424.29 960.00 427.20C973.60 433.08 987.20 437.43 1000.80 443.40C1020.97 452.25 1041.13 462.56 1061.30 473.60C1073.37 480.21 1085.43 486.27 1097.50 495.20C1101.53 498.18 1105.57 501.85 1109.60 506.00C1113.07 509.56 1116.53 513.60 1120.00 518.50C1121.43 520.52 1122.87 522.92 1124.30 525.50C1127.43 531.13 1130.57 538.39 1133.70 545.00C1135.80 549.43 1137.90 554.49 1140.00 558.50C1141.53 561.43 1143.07 564.09 1144.60 566.50C1146.40 562.51 1148.20 557.24 1150.00 551.00C1152.90 540.95 1155.80 523.82 1158.70 511.20C1161.20 500.32 1163.70 490.61 1166.20 480.00C1169.00 468.12 1171.80 457.42 1174.60 443.60C1176.80 432.74 1179.00 415.36 1181.20 406.20C1183.23 397.73 1185.27 390.43 1187.30 386.00L1191.00 390.50C1192.67 392.44 1194.33 395.03 1196.00 398.00C1197.93 401.45 1199.87 406.63 1201.80 410.90C1203.87 415.47 1205.93 420.56 1208.00 424.50C1210.30 428.89 1212.60 432.80 1214.90 436.10C1218.27 440.92 1221.63 445.19 1225.00 448.50C1230.00 453.41 1235.00 457.16 1240.00 460.50C1246.67 464.95 1253.33 468.32 1260.00 471.80C1266.67 475.28 1273.33 478.62 1280.00 481.50C1286.67 484.38 1293.33 486.93 1300.00 489.30C1315.00 494.63 1330.00 498.96 1345.00 503.66C1360.00 508.36 1375.00 512.95 1390.00 517.51C1405.00 522.06 1420.00 526.53 1435.00 530.99C1450.00 535.45 1465.00 539.85 1480.00 544.27C1495.00 548.68 1510.00 553.07 1525.00 557.49C1540.00 561.91 1555.00 566.33 1570.00 570.81C1585.00 575.29 1600.00 579.79 1615.00 584.38C1630.00 588.97 1645.00 593.60 1660.00 598.35C1675.00 603.10 1690.00 607.92 1705.00 612.88C1720.00 617.84 1735.00 622.90 1750.00 628.12C1765.00 633.34 1780.00 638.69 1795.00 644.22C1810.00 649.75 1825.00 655.44 1840.00 661.33C1855.00 667.22 1870.00 673.32 1885.00 679.61C1897.00 684.65 1909.00 689.85 1921.00 695.18" stroke="#D95319"/>
<path d="M1125.00 524.00C1128.00 530.00 1131.00 536.00 1134.00 542.00C1135.83 545.67 1137.67 550.70 1139.50 553.00C1140.73 554.55 1141.97 555.86 1143.20 556.50L1148.50 549.00C1150.67 539.21 1152.83 529.00 1155.00 518.50C1156.67 510.42 1158.33 501.68 1160.00 493.50C1163.47 476.48 1166.93 461.52 1170.40 443.60C1173.20 429.13 1176.00 408.07 1178.80 396.80C1180.47 390.09 1182.13 384.50 1183.80 380.50L1188.90 378.80C1189.93 381.02 1190.97 383.43 1192.00 386.00C1193.00 388.48 1194.00 391.09 1195.00 394.00C1196.83 399.33 1198.67 405.28 1200.50 412.00" stroke="#77AC30"/>
<path d="M766.00 301.60C767.37 300.40 768.73 299.26 770.10 298.20C771.80 296.88 773.50 295.35 775.20 294.50C776.87 293.67 778.53 292.88 780.20 292.60C781.37 292.40 782.53 292.20 783.70 292.20C785.07 292.20 786.43 292.44 787.80 292.70C789.47 293.02 791.13 294.09 792.80 295.20C794.47 296.31 796.13 298.43 797.80 300.20C798.87 301.33 799.93 302.55 801.00 303.80" stroke="#77AC30"/>
<path d="M250.00 335.20C266.67 337.91 283.33 340.50 300.00 342.90C320.00 345.78 340.00 348.35 360.00 351.00C383.33 354.09 406.67 357.75 430.00 360.10C446.67 361.78 463.33 363.20 480.00 364.30C496.67 365.40 513.33 366.49 530.00 367.00C540.33 367.32 550.67 367.70 561.00 367.70C567.67 367.70 574.33 367.70 581.00 367.70C591.00 367.70 601.00 366.93 611.00 366.20C617.33 365.74 623.67 364.84 630.00 363.90C636.67 362.91 643.33 361.50 650.00 360.00C658.67 358.05 667.33 355.78 676.00 353.00C684.00 350.43 692.00 346.96 700.00 343.53C706.67 340.66 713.33 337.41 720.00 334.16C726.67 330.91 733.33 328.05 740.00 324.00C743.33 321.98 746.67 319.53 750.00 316.80C753.37 314.04 756.73 310.24 760.10 307.20C763.43 304.19 766.77 301.11 770.10 298.60C771.80 297.32 773.50 295.90 775.20 295.10C776.87 294.31 778.53 293.58 780.20 293.30C781.37 293.10 782.53 292.90 783.70 292.90C785.07 292.90 786.43 293.14 787.80 293.40C789.47 293.72 791.13 294.73 792.80 295.80C794.47 296.87 796.13 298.97 797.80 300.60C799.50 302.27 801.20 303.98 802.90 305.70C804.33 307.15 805.77 308.48 807.20 310.10C809.13 312.28 811.07 315.09 813.00 317.50C815.10 320.12 817.20 322.74 819.30 325.20C821.37 327.63 823.43 329.95 825.50 332.20C827.50 334.38 829.50 336.45 831.50 338.50C835.57 342.68 839.63 346.84 843.70 350.70C847.77 354.56 851.83 358.20 855.90 361.70C862.73 367.57 869.57 373.38 876.40 378.40C883.43 383.57 890.47 388.06 897.50 392.50C904.57 396.96 911.63 401.19 918.70 405.20C925.73 409.20 932.77 413.09 939.80 416.60C946.53 419.97 953.27 423.09 960.00 426.00C973.60 431.88 987.20 436.23 1000.80 442.20C1020.97 451.05 1041.13 461.36 1061.30 472.40C1073.37 479.01 1085.43 485.07 1097.50 494.00C1101.53 496.98 1105.57 501.05 1109.60 504.80C1111.40 506.48 1113.20 507.94 1115.00 510.00C1118.10 513.54 1121.20 518.45 1124.30 523.70C1127.43 529.00 1130.57 536.18 1133.70 542.40C1135.80 546.57 1137.90 551.20 1140.00 554.90C1141.43 557.43 1142.87 559.72 1144.30 561.80L1149.30 548.70C1151.37 538.26 1153.43 527.87 1155.50 517.50C1157.17 509.14 1158.83 500.61 1160.50 492.50C1163.97 475.64 1167.43 461.33 1170.90 443.60C1173.70 429.28 1176.50 411.35 1179.30 396.80C1181.33 386.23 1183.37 376.29 1185.40 366.90L1190.60 376.20C1191.83 381.96 1193.07 387.41 1194.30 392.10C1196.17 399.20 1198.03 405.84 1199.90 410.90C1202.40 417.68 1204.90 423.01 1207.40 427.70C1210.53 433.58 1213.67 438.81 1216.80 442.70C1220.87 447.75 1224.93 451.64 1229.00 454.90C1233.67 458.64 1238.33 461.51 1243.00 464.20C1249.23 467.79 1255.47 470.64 1261.70 473.60C1267.93 476.56 1274.17 479.62 1280.40 482.00C1286.93 484.50 1293.47 486.48 1300.00 488.50C1315.00 493.13 1330.00 497.09 1345.00 501.24C1360.00 505.40 1375.00 509.44 1390.00 513.45C1405.00 517.45 1420.00 521.37 1435.00 525.26C1450.00 529.16 1465.00 533.00 1480.00 536.84C1495.00 540.69 1510.00 544.49 1525.00 548.33C1540.00 552.17 1555.00 556.00 1570.00 559.88C1585.00 563.76 1600.00 567.66 1615.00 571.63C1630.00 575.61 1645.00 579.62 1660.00 583.74C1675.00 587.86 1690.00 592.04 1705.00 596.35C1720.00 600.66 1735.00 605.07 1750.00 609.62C1765.00 614.17 1780.00 618.85 1795.00 623.69C1810.00 628.53 1825.00 633.52 1840.00 638.71C1855.00 643.89 1870.00 649.27 1885.00 654.82C1897.00 659.27 1909.00 663.88 1921.00 668.61" stroke="#4DBEEE"/>
<path d="M393.80 355.39C398.20 355.97 402.60 356.54 407.00 357.11C411.67 357.72 416.33 358.32 421.00 358.93" stroke="#0072BD"/>
</g>
<g clip-path="url(#clipBot)" fill="none" stroke-width="2.9" stroke-linejoin="round" stroke-linecap="butt">
<path d="M250.00 1212.50C278.33 1209.68 306.67 1206.77 335.00 1203.80C363.77 1200.78 392.53 1198.07 421.30 1194.50C444.20 1191.66 467.10 1188.06 490.00 1184.60C513.33 1181.08 536.67 1177.45 560.00 1173.50C580.00 1170.11 600.00 1165.53 620.00 1162.65C633.33 1160.73 646.67 1158.76 660.00 1157.75C670.33 1156.96 680.67 1156.29 691.00 1156.00" stroke="#EDB120"/>
<path d="M250.00 1207.80C278.33 1205.51 306.67 1203.14 335.00 1200.70C363.77 1198.22 392.53 1195.46 421.30 1193.00C444.20 1191.04 467.10 1189.40 490.00 1187.35C513.33 1185.27 536.67 1183.24 560.00 1180.50C580.00 1178.15 600.00 1174.13 620.00 1171.82C633.33 1170.28 646.67 1168.62 660.00 1167.90C672.33 1167.23 684.67 1166.50 697.00 1166.50C704.67 1166.50 712.33 1166.98 720.00 1167.50C726.67 1167.96 733.33 1169.11 740.00 1170.50C746.23 1171.80 752.47 1174.37 758.70 1176.80C764.97 1179.24 771.23 1181.87 777.50 1185.50C783.73 1189.11 789.97 1194.73 796.20 1200.00C802.43 1205.27 808.67 1211.42 814.90 1217.40C821.17 1223.41 827.43 1229.83 833.70 1236.00C839.93 1242.13 846.17 1248.57 852.40 1254.30C858.63 1260.03 864.87 1265.81 871.10 1270.50C877.37 1275.22 883.63 1279.83 889.90 1283.00C898.20 1287.20 906.50 1290.45 914.80 1293.00C923.13 1295.56 931.47 1297.18 939.80 1299.20C946.53 1300.83 953.27 1303.15 960.00 1304.00C974.27 1305.81 988.53 1306.42 1002.80 1307.40C1017.07 1308.38 1031.33 1308.83 1045.60 1310.00C1054.17 1310.70 1062.73 1311.66 1071.30 1313.00C1077.00 1313.89 1082.70 1314.76 1088.40 1316.80C1091.27 1317.82 1094.13 1320.43 1097.00 1322.80C1099.83 1325.14 1102.67 1327.52 1105.50 1331.40C1107.23 1333.77 1108.97 1337.26 1110.70 1341.60C1111.83 1344.44 1112.97 1348.29 1114.10 1352.80C1114.97 1356.25 1115.83 1361.24 1116.70 1365.60C1117.63 1370.29 1118.57 1375.09 1119.50 1380.00L1127.50 835.00C1128.67 835.00 1129.83 855.55 1131.00 880.00C1131.83 897.46 1132.67 935.46 1133.50 1000.00C1133.93 1033.56 1134.37 1151.85 1134.80 1200.00C1135.17 1240.74 1135.53 1275.60 1135.90 1296.80C1143.93 1297.68 1151.97 1298.58 1160.00 1299.50C1170.00 1300.64 1180.00 1301.92 1190.00 1303.00C1203.33 1304.44 1216.67 1306.15 1230.00 1307.00C1246.67 1308.06 1263.33 1308.29 1280.00 1309.30C1303.63 1310.73 1327.27 1312.92 1350.90 1315.92C1372.73 1318.68 1394.57 1323.77 1416.40 1328.66C1437.60 1333.40 1458.80 1339.94 1480.00 1345.40C1498.33 1350.12 1516.67 1354.37 1535.00 1359.27C1553.33 1364.16 1571.67 1369.57 1590.00 1374.90C1595.95 1376.63 1601.90 1378.36 1607.85 1380.17C1613.80 1381.99 1619.75 1383.86 1625.70 1385.80L1634.10 822.00C1644.10 824.59 1654.10 827.27 1664.10 830.05C1674.10 832.83 1684.10 835.72 1694.10 838.69C1704.10 841.67 1714.10 844.75 1724.10 847.92C1734.10 851.09 1744.10 854.37 1754.10 857.74C1764.10 861.11 1774.10 864.58 1784.10 868.15C1794.10 871.71 1804.10 875.38 1814.10 879.14C1824.10 882.90 1834.10 886.77 1844.10 890.73C1854.10 894.68 1864.10 898.75 1874.10 902.90C1884.10 907.06 1894.10 911.33 1904.10 915.66C1909.73 918.11 1915.37 920.60 1921.00 923.11" stroke="#0072BD"/>
<path d="M250.00 1208.30C278.33 1205.58 306.67 1202.78 335.00 1199.90C363.77 1196.98 392.53 1194.48 421.30 1190.90C444.20 1188.05 467.10 1184.12 490.00 1180.50C513.33 1176.81 536.67 1173.15 560.00 1168.90C580.00 1165.25 600.00 1160.02 620.00 1156.81C633.33 1154.67 646.67 1152.42 660.00 1151.35C671.33 1150.44 682.67 1149.40 694.00 1149.40C701.00 1149.40 708.00 1149.76 715.00 1150.30C721.00 1150.76 727.00 1153.25 733.00 1156.00C737.00 1157.83 741.00 1160.96 745.00 1165.00C748.33 1168.37 751.67 1174.29 755.00 1180.00C758.33 1185.71 761.67 1193.35 765.00 1200.00C769.17 1208.32 773.33 1216.19 777.50 1224.90C781.67 1233.61 785.83 1243.42 790.00 1252.40C794.13 1261.31 798.27 1270.34 802.40 1278.60C806.57 1286.93 810.73 1296.84 814.90 1302.30C819.07 1307.76 823.23 1311.36 827.40 1314.80C831.57 1318.24 835.73 1321.47 839.90 1323.60C844.07 1325.73 848.23 1327.32 852.40 1328.60C856.57 1329.88 860.73 1330.98 864.90 1331.70C873.23 1333.13 881.57 1334.46 889.90 1334.80C898.20 1335.13 906.50 1335.40 914.80 1335.40C929.87 1335.40 944.93 1334.87 960.00 1334.40C974.27 1333.96 988.53 1332.20 1002.80 1332.20C1014.20 1332.20 1025.60 1332.61 1037.00 1333.10C1045.57 1333.47 1054.13 1334.53 1062.70 1335.70C1068.43 1336.48 1074.17 1337.79 1079.90 1339.10C1084.17 1340.07 1088.43 1341.05 1092.70 1342.50C1096.97 1343.95 1101.23 1345.95 1105.50 1348.50C1108.37 1350.22 1111.23 1352.37 1114.10 1355.30C1116.40 1357.65 1118.70 1361.33 1121.00 1365.00C1123.00 1368.19 1125.00 1372.60 1127.00 1376.00C1129.10 1379.58 1131.20 1382.93 1133.30 1386.00L1128.60 846.00C1129.73 856.06 1130.87 865.39 1132.00 872.00C1133.67 881.73 1135.33 888.93 1137.00 895.00C1139.13 902.77 1141.27 906.64 1143.40 914.00C1144.97 919.41 1146.53 923.91 1148.10 933.00C1149.03 938.42 1149.97 952.72 1150.90 958.70C1155.60 988.83 1160.30 998.81 1165.00 1020.00C1169.97 1042.39 1174.93 1058.66 1179.90 1089.80C1183.27 1110.91 1186.63 1149.65 1190.00 1180.00C1192.57 1203.14 1195.13 1238.77 1197.70 1250.00C1199.23 1256.71 1200.77 1260.30 1202.30 1264.00C1203.87 1267.78 1205.43 1270.99 1207.00 1273.40C1210.13 1278.21 1213.27 1281.97 1216.40 1284.60C1221.93 1289.25 1227.47 1291.96 1233.00 1294.90C1239.57 1298.39 1246.13 1301.96 1252.70 1304.00C1259.27 1306.04 1265.83 1307.78 1272.40 1308.60C1274.93 1308.91 1277.47 1309.10 1280.00 1309.30C1303.63 1311.17 1327.27 1311.77 1350.90 1313.83C1372.73 1315.74 1394.57 1319.31 1416.40 1322.72C1437.60 1326.04 1458.80 1330.10 1480.00 1334.42C1498.33 1338.15 1516.67 1342.50 1535.00 1346.91C1553.33 1351.33 1571.67 1356.36 1590.00 1361.00C1598.50 1363.15 1607.00 1365.18 1615.50 1367.39C1624.00 1369.61 1632.50 1371.91 1641.00 1374.30L1687.20 823.50C1697.20 826.75 1707.20 830.10 1717.20 833.53C1727.20 836.96 1737.20 840.49 1747.20 844.10C1757.20 847.71 1767.20 851.42 1777.20 855.20C1787.20 858.99 1797.20 862.88 1807.20 866.84C1817.20 870.81 1827.20 874.87 1837.20 879.02C1847.20 883.16 1857.20 887.40 1867.20 891.73C1877.20 896.05 1887.20 900.47 1897.20 904.97C1905.13 908.54 1913.07 912.17 1921.00 915.86" stroke="#D95319"/>
<path d="M940.00 1323.50C953.33 1322.66 966.67 1321.83 980.00 1321.00C987.60 1320.53 995.20 1319.92 1002.80 1319.60C1017.07 1319.00 1031.33 1318.30 1045.60 1318.30C1055.40 1318.30 1065.20 1319.42 1075.00 1321.00C1079.33 1321.70 1083.67 1323.73 1088.00 1326.00C1090.83 1327.48 1093.67 1329.80 1096.50 1332.50C1099.17 1335.04 1101.83 1338.16 1104.50 1342.50C1106.50 1345.76 1108.50 1350.31 1110.50 1356.00C1111.93 1360.07 1113.37 1366.89 1114.80 1372.00C1115.87 1375.80 1116.93 1379.46 1118.00 1383.00L1120.60 825.50C1121.73 833.90 1122.87 840.00 1124.00 840.00C1125.00 840.00 1126.00 836.85 1127.00 835.00C1128.50 832.23 1130.00 829.07 1131.50 825.50L1136.50 864.00C1138.17 876.50 1139.83 888.27 1141.50 899.00C1143.33 910.80 1145.17 926.27 1147.00 931.70C1148.60 936.44 1150.20 941.30 1151.80 941.30C1153.33 941.30 1154.87 936.16 1156.40 931.70C1158.27 926.27 1160.13 915.87 1162.00 903.60C1163.53 893.52 1165.07 878.13 1166.60 861.00L1172.40 1351.00C1173.60 1344.91 1174.80 1339.31 1176.00 1336.00C1177.67 1331.41 1179.33 1327.88 1181.00 1326.00C1187.33 1318.86 1193.67 1314.78 1200.00 1313.00C1210.00 1310.19 1220.00 1308.00 1230.00 1308.00C1246.67 1308.00 1263.33 1308.51 1280.00 1309.00C1303.63 1309.69 1327.27 1311.41 1350.90 1313.35C1372.73 1315.14 1394.57 1318.29 1416.40 1321.36C1437.60 1324.34 1458.80 1327.86 1480.00 1331.89C1498.33 1335.37 1516.67 1339.76 1535.00 1344.07C1553.33 1348.37 1571.67 1352.96 1590.00 1357.80C1607.12 1362.32 1624.23 1367.23 1641.35 1372.19C1658.47 1377.15 1675.58 1382.29 1692.70 1387.60L1701.10 824.10C1711.57 828.14 1722.03 831.98 1732.50 835.60C1742.67 839.12 1752.83 842.02 1763.00 845.61C1773.00 849.13 1783.00 853.13 1793.00 857.04C1803.00 860.96 1813.00 864.98 1823.00 869.11C1833.00 873.23 1843.00 877.47 1853.00 881.80C1863.00 886.13 1873.00 890.58 1883.00 895.12C1893.00 899.67 1903.00 904.34 1913.00 909.07C1915.67 910.33 1918.33 911.62 1921.00 912.90" stroke="#EDB120"/>
<path d="M250.00 1213.00C278.33 1210.26 306.67 1207.44 335.00 1204.55C363.77 1201.61 392.53 1199.05 421.30 1195.50C444.20 1192.67 467.10 1188.89 490.00 1185.35C513.33 1181.74 536.67 1178.10 560.00 1174.00C580.00 1170.48 600.00 1165.58 620.00 1162.53C633.33 1160.50 646.67 1158.42 660.00 1157.35C670.33 1156.52 680.67 1155.50 691.00 1155.50C699.00 1155.50 707.00 1155.93 715.00 1156.50C723.33 1157.10 731.67 1159.68 740.00 1163.00C746.23 1165.49 752.47 1171.77 758.70 1177.50C762.87 1181.33 767.03 1185.65 771.20 1191.20C775.37 1196.75 779.53 1204.93 783.70 1212.40C787.87 1219.87 792.03 1228.28 796.20 1236.20C800.37 1244.12 804.53 1252.44 808.70 1259.90C812.87 1267.36 817.03 1275.24 821.20 1281.10C825.37 1286.96 829.53 1292.08 833.70 1296.10C837.83 1300.09 841.97 1303.56 846.10 1306.10C850.27 1308.66 854.43 1310.61 858.60 1312.30C864.87 1314.84 871.13 1317.01 877.40 1318.60C885.70 1320.71 894.00 1322.96 902.30 1323.60C910.63 1324.25 918.97 1324.53 927.30 1324.80C938.20 1325.16 949.10 1325.26 960.00 1325.60C968.57 1325.87 977.13 1326.44 985.70 1326.70C997.10 1327.05 1008.50 1327.05 1019.90 1327.50C1028.47 1327.84 1037.03 1329.07 1045.60 1330.10C1054.17 1331.13 1062.73 1332.16 1071.30 1333.90C1077.00 1335.06 1082.70 1336.77 1088.40 1339.10C1092.70 1340.86 1097.00 1343.28 1101.30 1346.80C1104.13 1349.12 1106.97 1352.65 1109.80 1357.10C1111.80 1360.24 1113.80 1365.03 1115.80 1369.90C1117.23 1373.39 1118.67 1377.51 1120.10 1381.90L1122.00 832.00C1123.00 834.48 1124.00 837.91 1125.00 842.00C1126.67 848.82 1128.33 858.52 1130.00 870.00C1131.33 879.18 1132.67 892.90 1134.00 905.00C1135.57 919.22 1137.13 936.05 1138.70 949.40C1141.80 975.81 1144.90 997.89 1148.00 1020.00C1151.47 1044.73 1154.93 1059.64 1158.40 1089.80C1160.93 1111.84 1163.47 1153.15 1166.00 1180.00C1168.43 1205.79 1170.87 1234.72 1173.30 1250.00C1174.23 1255.86 1175.17 1261.26 1176.10 1264.00C1178.60 1271.34 1181.10 1274.80 1183.60 1278.10C1186.73 1282.24 1189.87 1285.46 1193.00 1287.50C1197.67 1290.53 1202.33 1292.31 1207.00 1294.00C1214.67 1296.77 1222.33 1298.83 1230.00 1300.60C1236.67 1302.14 1243.33 1303.36 1250.00 1304.50C1260.00 1306.21 1270.00 1308.08 1280.00 1309.00C1303.63 1311.17 1327.27 1311.38 1350.90 1313.30C1372.73 1315.08 1394.57 1318.19 1416.40 1321.23C1437.60 1324.19 1458.80 1327.65 1480.00 1331.65C1498.33 1335.11 1516.67 1339.63 1535.00 1343.80C1554.43 1348.22 1573.87 1352.79 1593.30 1357.50L1638.90 822.00C1648.90 825.26 1658.90 828.57 1668.90 831.92C1678.90 835.27 1688.90 838.67 1698.90 842.11C1708.90 845.55 1718.90 849.03 1728.90 852.56C1738.90 856.09 1748.90 859.66 1758.90 863.28C1768.90 866.90 1778.90 870.56 1788.90 874.27C1798.90 877.97 1808.90 881.73 1818.90 885.52C1828.90 889.32 1838.90 893.16 1848.90 897.04C1858.90 900.93 1868.90 904.86 1878.90 908.83C1888.90 912.80 1898.90 916.83 1908.90 920.89C1912.93 922.52 1916.97 924.17 1921.00 925.82" stroke="#7E2F8E"/>
<path d="M1113.50 1370.00L1116.80 1383.00L1119.80 826.00" stroke="#77AC30"/>
<path d="M1132.30 1354.00L1130.60 826.00M1130.60 826.00L1136.90 1340.00L1138.10 826.00C1139.47 826.00 1140.83 827.08 1142.20 829.00C1143.20 830.41 1144.20 844.93 1145.20 854.00C1146.37 864.58 1147.53 879.15 1148.70 889.00C1150.20 901.67 1151.70 912.75 1153.20 921.50C1155.13 932.78 1157.07 943.67 1159.00 949.50C1161.83 958.05 1164.67 967.50 1167.50 967.50C1170.17 967.50 1172.83 960.19 1175.50 952.00C1177.33 946.37 1179.17 931.97 1181.00 917.00L1188.60 1373.50C1189.83 1360.95 1191.07 1349.45 1192.30 1344.00C1193.87 1337.08 1195.43 1332.98 1197.00 1330.00C1200.10 1324.10 1203.20 1318.43 1206.30 1317.80" stroke="#77AC30"/>
<path d="M1280.00 1309.00C1303.63 1309.58 1327.27 1311.00 1350.90 1312.61C1372.73 1314.10 1394.57 1316.71 1416.40 1319.27C1437.60 1321.75 1458.80 1324.46 1480.00 1328.02C1498.33 1331.09 1516.67 1335.58 1535.00 1339.71C1553.33 1343.84 1571.67 1348.16 1590.00 1352.90C1608.53 1357.69 1627.07 1363.12 1645.60 1368.49C1664.13 1373.87 1682.67 1379.45 1701.20 1385.20L1709.30 822.00C1717.03 824.67 1724.77 827.37 1732.50 830.10C1742.73 833.72 1752.97 837.32 1763.20 841.11C1773.20 844.81 1783.20 848.66 1793.20 852.60C1803.20 856.54 1813.20 860.61 1823.20 864.78C1833.20 868.95 1843.20 873.24 1853.20 877.64C1863.20 882.04 1873.20 886.56 1883.20 891.18C1893.20 895.81 1903.20 900.59 1913.20 905.41C1915.80 906.67 1918.40 907.95 1921.00 909.23" stroke="#77AC30"/>
<path d="M1280.00 1309.00C1303.63 1309.74 1327.27 1311.55 1350.90 1313.60C1372.73 1315.50 1394.57 1318.83 1416.40 1322.08C1437.60 1325.24 1458.80 1329.05 1480.00 1333.23C1498.33 1336.85 1516.67 1341.22 1535.00 1345.58C1553.33 1349.94 1571.67 1354.43 1590.00 1359.50C1604.30 1363.46 1618.60 1368.01 1632.90 1372.47C1647.20 1376.93 1661.50 1381.55 1675.80 1386.30L1683.00 823.30C1693.00 826.69 1703.00 830.13 1713.00 833.61C1723.00 837.09 1733.00 840.61 1743.00 844.18C1753.00 847.75 1763.00 851.36 1773.00 855.02C1783.00 858.67 1793.00 862.38 1803.00 866.12C1813.00 869.87 1823.00 873.66 1833.00 877.49C1843.00 881.33 1853.00 885.21 1863.00 889.13C1873.00 893.06 1883.00 897.03 1893.00 901.04C1902.33 904.78 1911.67 908.57 1921.00 912.39" stroke="#0072BD"/>
<path d="M250.00 1216.50C278.33 1213.59 306.67 1210.61 335.00 1207.55C363.77 1204.45 392.53 1201.62 421.30 1198.00C444.20 1195.12 467.10 1191.56 490.00 1188.10C513.33 1184.58 536.67 1180.89 560.00 1177.00C580.00 1173.66 600.00 1169.26 620.00 1166.46C633.33 1164.59 646.67 1162.65 660.00 1161.70C671.00 1160.92 682.00 1160.00 693.00 1160.00C700.33 1160.00 707.67 1160.58 715.00 1161.20C723.33 1161.91 731.67 1163.89 740.00 1166.30C746.23 1168.10 752.47 1171.59 758.70 1175.00C764.97 1178.43 771.23 1182.64 777.50 1187.50C783.73 1192.34 789.97 1198.36 796.20 1204.90C802.43 1211.44 808.67 1219.71 814.90 1227.40C821.17 1235.13 827.43 1243.70 833.70 1251.20C839.93 1258.66 846.17 1266.28 852.40 1272.40C858.63 1278.52 864.87 1284.49 871.10 1288.60C877.37 1292.73 883.63 1296.04 889.90 1298.60C898.20 1301.99 906.50 1304.80 914.80 1306.70C923.13 1308.60 931.47 1309.67 939.80 1311.10C946.53 1312.26 953.27 1313.80 960.00 1314.50C974.27 1315.99 988.53 1317.00 1002.80 1317.50C1017.07 1318.00 1031.33 1318.02 1045.60 1318.50C1059.87 1318.98 1074.13 1319.58 1088.40 1321.00C1093.93 1321.55 1099.47 1323.07 1105.00 1324.50C1110.00 1325.80 1115.00 1327.34 1120.00 1329.50C1123.67 1331.09 1127.33 1333.45 1131.00 1336.00C1133.43 1337.69 1135.87 1339.78 1138.30 1342.00L1139.50 821.50C1140.00 822.56 1140.50 824.56 1141.00 827.00C1142.00 831.88 1143.00 842.93 1144.00 852.00C1145.17 862.58 1146.33 877.06 1147.50 887.00C1149.00 899.77 1150.50 911.35 1152.00 920.00C1154.00 931.53 1156.00 942.12 1158.00 948.00C1160.93 956.62 1163.87 966.20 1166.80 966.20C1169.53 966.20 1172.27 958.82 1175.00 950.00C1176.67 944.62 1178.33 928.21 1180.00 915.00C1181.77 900.99 1183.53 884.57 1185.30 866.40L1189.30 1374.00C1190.53 1361.02 1191.77 1349.09 1193.00 1343.60C1194.57 1336.62 1196.13 1332.58 1197.70 1329.60C1200.80 1323.70 1203.90 1319.60 1207.00 1317.40C1211.67 1314.09 1216.33 1312.22 1221.00 1310.90C1224.00 1310.05 1227.00 1309.20 1230.00 1309.00C1236.67 1308.56 1243.33 1308.30 1250.00 1308.30C1260.00 1308.30 1270.00 1308.67 1280.00 1309.00C1303.63 1309.78 1327.27 1311.84 1350.90 1314.13C1372.73 1316.24 1394.57 1319.95 1416.40 1323.58C1437.60 1327.10 1458.80 1331.50 1480.00 1336.00C1498.33 1339.88 1516.67 1344.20 1535.00 1348.69C1553.33 1353.17 1571.67 1357.89 1590.00 1363.00C1603.00 1366.62 1616.00 1370.61 1629.00 1374.61C1642.00 1378.61 1655.00 1382.74 1668.00 1387.00L1675.80 823.80C1685.80 827.17 1695.80 830.58 1705.80 834.04C1715.80 837.50 1725.80 841.00 1735.80 844.55C1745.80 848.10 1755.80 851.69 1765.80 855.33C1775.80 858.96 1785.80 862.64 1795.80 866.37C1805.80 870.09 1815.80 873.86 1825.80 877.67C1835.80 881.49 1845.80 885.35 1855.80 889.25C1865.80 893.15 1875.80 897.10 1885.80 901.09C1895.80 905.08 1905.80 909.13 1915.80 913.20C1917.53 913.90 1919.27 914.61 1921.00 915.32" stroke="#4DBEEE"/>
<path d="M250.00 1211.50C278.33 1208.68 306.67 1205.77 335.00 1202.80C363.77 1199.78 392.53 1197.07 421.30 1193.50C444.20 1190.65 467.10 1187.02 490.00 1183.55C513.33 1180.01 536.67 1176.47 560.00 1172.40C580.00 1168.91 600.00 1163.93 620.00 1160.87C633.33 1158.82 646.67 1156.74 660.00 1155.66C670.33 1154.82 680.67 1153.80 691.00 1153.80C699.00 1153.80 707.00 1154.32 715.00 1155.00C723.33 1155.70 731.67 1158.53 740.00 1162.00C746.23 1164.60 752.47 1170.57 758.70 1176.00C762.87 1179.63 767.03 1183.79 771.20 1188.70C775.37 1193.61 779.53 1199.81 783.70 1206.20C787.87 1212.59 792.03 1220.12 796.20 1227.40C800.37 1234.68 804.53 1242.62 808.70 1249.90C812.87 1257.18 817.03 1265.24 821.20 1271.10C825.37 1276.96 829.53 1281.78 833.70 1286.10C837.83 1290.38 841.97 1294.14 846.10 1297.40C850.27 1300.69 854.43 1303.95 858.60 1306.10C864.87 1309.34 871.13 1311.66 877.40 1313.60C885.70 1316.17 894.00 1318.40 902.30 1319.80C910.63 1321.21 918.97 1323.00 927.30 1323.00C935.63 1323.00 943.97 1323.00 952.30 1323.00C961.53 1323.00 970.77 1321.20 980.00 1320.50C987.60 1319.92 995.20 1319.33 1002.80 1319.00C1017.07 1318.38 1031.33 1317.70 1045.60 1317.70C1057.03 1317.70 1068.47 1317.97 1079.90 1318.50C1085.60 1318.76 1091.30 1320.35 1097.00 1322.00C1101.27 1323.23 1105.53 1324.97 1109.80 1327.90C1112.67 1329.87 1115.53 1333.17 1118.40 1338.20C1119.83 1340.71 1121.27 1345.70 1122.70 1350.20C1124.13 1354.70 1125.57 1359.05 1127.00 1365.60C1127.93 1369.86 1128.87 1375.91 1129.80 1382.40L1135.40 862.40C1137.13 875.60 1138.87 887.92 1140.60 899.00C1142.47 910.93 1144.33 926.22 1146.20 931.70C1147.77 936.30 1149.33 941.10 1150.90 941.10C1152.43 941.10 1153.97 936.07 1155.50 931.70C1157.40 926.29 1159.30 916.17 1161.20 903.60C1162.70 893.68 1164.20 877.73 1165.70 860.10L1170.00 1372.70C1171.43 1360.41 1172.87 1349.56 1174.30 1343.60C1175.87 1337.08 1177.43 1332.63 1179.00 1329.60C1180.53 1326.63 1182.07 1324.63 1183.60 1323.00C1186.73 1319.68 1189.87 1317.00 1193.00 1315.50C1197.67 1313.27 1202.33 1311.97 1207.00 1310.90C1214.67 1309.14 1222.33 1307.00 1230.00 1307.00C1246.67 1307.00 1263.33 1308.20 1280.00 1309.10C1303.63 1310.37 1327.27 1312.16 1350.90 1314.65C1372.73 1316.96 1394.57 1321.07 1416.40 1325.07C1437.60 1328.95 1458.80 1333.97 1480.00 1338.76C1498.33 1342.90 1516.67 1347.19 1535.00 1351.80C1553.33 1356.41 1571.67 1361.27 1590.00 1366.50C1601.58 1369.80 1613.17 1373.39 1624.75 1377.00C1636.33 1380.62 1647.92 1384.35 1659.50 1388.20L1667.30 824.10C1677.30 827.44 1687.30 830.83 1697.30 834.27C1707.30 837.70 1717.30 841.18 1727.30 844.70C1737.30 848.22 1747.30 851.79 1757.30 855.40C1767.30 859.01 1777.30 862.66 1787.30 866.36C1797.30 870.06 1807.30 873.81 1817.30 877.60C1827.30 881.38 1837.30 885.22 1847.30 889.09C1857.30 892.97 1867.30 896.89 1877.30 900.86C1887.30 904.82 1897.30 908.84 1907.30 912.89C1911.87 914.74 1916.43 916.60 1921.00 918.47" stroke="#7E2F8E"/>
<path d="M1126.00 1375.00L1130.50 850.00C1131.50 854.85 1132.50 859.54 1133.50 864.00C1134.83 869.94 1136.17 876.17 1137.50 881.00C1138.77 885.58 1140.03 889.67 1141.30 893.00C1142.40 883.86 1143.50 874.85 1144.60 866.00C1145.80 856.34 1147.00 846.83 1148.20 837.50L1155.70 1345.00C1156.63 1341.64 1157.57 1338.49 1158.50 1336.00C1160.00 1332.00 1161.50 1328.32 1163.00 1326.00C1165.33 1322.39 1167.67 1319.71 1170.00 1318.00C1173.33 1315.56 1176.67 1313.63 1180.00 1312.80C1186.67 1311.15 1193.33 1309.80 1200.00 1309.80" stroke="#0072BD"/>
<path d="M250.00 1218.60C278.33 1215.57 306.67 1212.47 335.00 1209.30C363.77 1206.08 392.53 1202.98 421.30 1199.40C444.20 1196.55 467.10 1193.36 490.00 1190.10C513.33 1186.78 536.67 1183.22 560.00 1179.60C580.00 1176.50 600.00 1172.54 620.00 1169.99C633.33 1168.29 646.67 1166.51 660.00 1165.65C671.00 1164.94 682.00 1164.10 693.00 1164.10C700.33 1164.10 707.67 1164.42 715.00 1164.80C723.33 1165.23 731.67 1166.89 740.00 1168.70C746.23 1170.05 752.47 1172.72 758.70 1175.00C764.97 1177.29 771.23 1179.26 777.50 1182.50C783.73 1185.72 789.97 1191.25 796.20 1196.20C802.43 1201.15 808.67 1206.61 814.90 1212.40C821.17 1218.22 827.43 1224.93 833.70 1231.20C839.93 1237.43 846.17 1244.11 852.40 1249.90C858.63 1255.69 864.87 1261.41 871.10 1266.10C877.37 1270.82 883.63 1275.43 889.90 1278.60C898.20 1282.80 906.50 1285.88 914.80 1288.60C923.13 1291.33 931.47 1293.65 939.80 1295.50C946.53 1297.00 953.27 1298.56 960.00 1299.30C974.27 1300.88 988.53 1302.02 1002.80 1302.40C1017.07 1302.78 1031.33 1303.10 1045.60 1303.10C1059.87 1303.10 1074.13 1302.70 1088.40 1302.70C1091.83 1302.70 1095.27 1303.52 1098.70 1304.40C1101.57 1305.14 1104.43 1306.82 1107.30 1309.10C1109.57 1310.91 1111.83 1314.75 1114.10 1318.50C1115.80 1321.32 1117.50 1326.51 1119.20 1328.80C1121.20 1331.50 1123.20 1334.80 1125.20 1334.80C1126.57 1334.80 1127.93 1331.38 1129.30 1329.60C1131.17 1327.17 1133.03 1324.25 1134.90 1322.10C1137.10 1319.57 1139.30 1316.98 1141.50 1315.50C1144.63 1313.40 1147.77 1311.59 1150.90 1310.90C1155.57 1309.87 1160.23 1309.46 1164.90 1309.00C1171.13 1308.39 1177.37 1307.89 1183.60 1307.60C1199.07 1306.89 1214.53 1306.20 1230.00 1306.20C1246.67 1306.20 1263.33 1307.84 1280.00 1309.00C1303.63 1310.64 1327.27 1312.72 1350.90 1315.71C1372.73 1318.47 1394.57 1323.32 1416.40 1328.06C1437.60 1332.66 1458.80 1338.94 1480.00 1344.29C1498.33 1348.92 1516.67 1353.17 1535.00 1358.02C1553.33 1362.87 1571.67 1368.21 1590.00 1373.50C1597.40 1375.63 1604.80 1377.78 1612.20 1380.03C1619.60 1382.28 1627.00 1384.60 1634.40 1387.00L1642.50 822.00C1652.50 824.49 1662.50 827.10 1672.50 829.81C1682.50 832.53 1692.50 835.37 1702.50 838.31C1712.50 841.25 1722.50 844.31 1732.50 847.48C1742.50 850.65 1752.50 853.94 1762.50 857.33C1772.50 860.72 1782.50 864.24 1792.50 867.86C1802.50 871.48 1812.50 875.22 1822.50 879.07C1832.50 882.92 1842.50 886.89 1852.50 890.96C1862.50 895.03 1872.50 899.23 1882.50 903.52C1892.50 907.82 1902.50 912.27 1912.50 916.77C1915.33 918.04 1918.17 919.34 1921.00 920.65" stroke="#77AC30"/>
<path d="M250.00 1218.30C278.33 1215.22 306.67 1212.07 335.00 1208.85C363.77 1205.58 392.53 1202.50 421.30 1198.80C444.20 1195.85 467.10 1192.42 490.00 1189.00C513.33 1185.51 536.67 1181.88 560.00 1178.00C580.00 1174.68 600.00 1170.26 620.00 1167.46C633.33 1165.59 646.67 1163.65 660.00 1162.70C671.00 1161.92 682.00 1161.00 693.00 1161.00C700.33 1161.00 707.67 1161.47 715.00 1162.00C723.33 1162.60 731.67 1164.35 740.00 1166.50C746.23 1168.11 752.47 1171.48 758.70 1174.50C764.97 1177.54 771.23 1180.66 777.50 1185.00C783.73 1189.31 789.97 1195.82 796.20 1202.00C802.43 1208.18 808.67 1215.69 814.90 1222.40C821.17 1229.15 827.43 1235.72 833.70 1242.40C839.93 1249.05 846.17 1256.43 852.40 1262.40C858.63 1268.37 864.87 1274.34 871.10 1278.60C877.37 1282.88 883.63 1286.45 889.90 1289.20C898.20 1292.85 906.50 1295.88 914.80 1298.00C923.13 1300.13 931.47 1301.46 939.80 1303.00C946.53 1304.25 953.27 1306.22 960.00 1306.50C974.27 1307.09 988.53 1307.29 1002.80 1307.40C1017.07 1307.51 1031.33 1307.48 1045.60 1307.60C1057.03 1307.70 1068.47 1308.19 1079.90 1309.10C1084.17 1309.44 1088.43 1310.43 1092.70 1311.70C1095.57 1312.55 1098.43 1314.09 1101.30 1316.00C1104.13 1317.89 1106.97 1320.87 1109.80 1324.50C1112.67 1328.18 1115.53 1333.47 1118.40 1339.90C1119.83 1343.12 1121.27 1347.67 1122.70 1352.00C1124.13 1356.33 1125.57 1361.39 1127.00 1366.00C1128.93 1372.22 1130.87 1378.36 1132.80 1384.40C1134.13 1370.95 1135.47 1358.83 1136.80 1353.00C1138.37 1346.15 1139.93 1343.17 1141.50 1339.00C1143.07 1334.83 1144.63 1330.18 1146.20 1327.70C1149.30 1322.80 1152.40 1319.20 1155.50 1317.40C1158.63 1315.58 1161.77 1314.57 1164.90 1313.70C1171.13 1311.97 1177.37 1310.53 1183.60 1309.90C1199.07 1308.34 1214.53 1307.10 1230.00 1307.10C1246.67 1307.10 1263.33 1308.28 1280.00 1309.20C1303.63 1310.51 1327.27 1312.57 1350.90 1315.33C1372.73 1317.88 1394.57 1322.52 1416.40 1326.99C1437.60 1331.34 1458.80 1337.17 1480.00 1342.32C1498.33 1346.77 1516.67 1351.04 1535.00 1355.80C1553.33 1360.56 1571.67 1365.92 1590.00 1371.00C1598.57 1373.38 1607.13 1375.68 1615.70 1378.14C1624.27 1380.61 1632.83 1383.16 1641.40 1385.80L1651.00 822.00C1661.00 824.49 1671.00 827.10 1681.00 829.83C1691.00 832.55 1701.00 835.42 1711.00 838.38C1721.00 841.35 1731.00 844.45 1741.00 847.66C1751.00 850.86 1761.00 854.20 1771.00 857.65C1781.00 861.10 1791.00 864.68 1801.00 868.37C1811.00 872.06 1821.00 875.88 1831.00 879.81C1841.00 883.74 1851.00 887.80 1861.00 891.97C1871.00 896.14 1881.00 900.44 1891.00 904.86C1901.00 909.27 1911.00 913.81 1921.00 918.46" stroke="#A2142F"/>
<path d="M1280.00 1309.00C1303.63 1310.06 1327.27 1312.63 1350.90 1315.56C1372.73 1318.26 1394.57 1323.00 1416.40 1327.63C1437.60 1332.13 1458.80 1338.23 1480.00 1343.50C1498.33 1348.06 1516.67 1352.32 1535.00 1357.13C1553.33 1361.95 1571.67 1367.52 1590.00 1372.50C1598.40 1374.78 1606.80 1376.88 1615.20 1379.20C1623.60 1381.51 1632.00 1383.92 1640.40 1386.40L1686.00 836.40C1696.00 839.66 1706.00 842.98 1716.00 846.36C1726.00 849.74 1736.00 853.18 1746.00 856.69C1756.00 860.19 1766.00 863.75 1776.00 867.38C1786.00 871.00 1796.00 874.69 1806.00 878.44C1816.00 882.19 1826.00 886.00 1836.00 889.87C1846.00 893.74 1856.00 897.68 1866.00 901.67C1876.00 905.66 1886.00 909.72 1896.00 913.83C1904.33 917.26 1912.67 920.74 1921.00 924.25" stroke="#4DBEEE"/>
<path d="M1280.00 1309.00C1303.63 1310.00 1327.27 1312.42 1350.90 1315.18C1372.73 1317.73 1394.57 1322.20 1416.40 1326.57C1437.60 1330.81 1458.80 1336.45 1480.00 1341.53C1498.33 1345.92 1516.67 1350.18 1535.00 1354.91C1553.33 1359.64 1571.67 1365.19 1590.00 1370.00C1598.40 1372.20 1606.80 1374.18 1615.20 1376.40C1623.60 1378.61 1632.00 1380.92 1640.40 1383.30L1686.00 834.40C1688.70 835.96 1691.40 837.58 1694.10 838.69C1704.10 842.79 1714.10 844.75 1724.10 847.92C1734.10 851.09 1744.10 854.37 1754.10 857.74C1764.10 861.11 1774.10 864.58 1784.10 868.15C1794.10 871.71 1804.10 875.38 1814.10 879.14C1824.10 882.90 1834.10 886.77 1844.10 890.73C1854.10 894.68 1864.10 898.75 1874.10 902.90C1884.10 907.06 1894.10 911.33 1904.10 915.66C1909.73 918.11 1915.37 920.60 1921.00 923.11" stroke="#0072BD"/>
<path d="M1280.00 1309.00C1303.63 1309.92 1327.27 1312.17 1350.90 1314.73C1372.73 1317.09 1394.57 1321.24 1416.40 1325.29C1437.60 1329.22 1458.80 1334.33 1480.00 1339.16C1498.33 1343.33 1516.67 1347.62 1535.00 1352.24C1553.33 1356.87 1571.67 1362.11 1590.00 1367.00C1598.40 1369.24 1606.80 1371.38 1615.20 1373.70C1623.60 1376.01 1632.00 1378.42 1640.40 1380.90L1686.00 831.80C1691.50 834.14 1697.00 836.39 1702.50 838.31C1712.50 841.80 1722.50 844.31 1732.50 847.48C1742.50 850.65 1752.50 853.94 1762.50 857.33C1772.50 860.72 1782.50 864.24 1792.50 867.86C1802.50 871.48 1812.50 875.22 1822.50 879.07C1832.50 882.92 1842.50 886.89 1852.50 890.96C1862.50 895.03 1872.50 899.23 1882.50 903.52C1892.50 907.82 1902.50 912.27 1912.50 916.77C1915.33 918.04 1918.17 919.34 1921.00 920.65" stroke="#77AC30"/>
<path d="M1650.00 1351.50C1677.80 1359.08 1705.60 1368.01 1733.40 1377.40C1742.10 1380.34 1750.80 1383.56 1759.50 1386.80L1767.80 823.80C1771.67 825.39 1775.53 826.97 1779.40 828.60C1802.93 838.51 1826.47 848.75 1850.00 859.20C1873.67 869.71 1897.33 880.48 1921.00 891.50" stroke="#D95319"/>
<path d="M250.00 1217.30C278.33 1214.22 306.67 1211.07 335.00 1207.85C363.77 1204.58 392.53 1201.62 421.30 1197.80C444.20 1194.76 467.10 1190.96 490.00 1187.30C513.33 1183.57 536.67 1179.72 560.00 1175.60C580.00 1172.06 600.00 1167.36 620.00 1164.38C633.33 1162.39 646.67 1160.32 660.00 1159.31C671.00 1158.48 682.00 1157.50 693.00 1157.50C700.33 1157.50 707.67 1157.95 715.00 1158.50C723.33 1159.13 731.67 1161.69 740.00 1164.50C746.23 1166.60 752.47 1170.60 758.70 1174.50C764.97 1178.42 771.23 1183.02 777.50 1188.70C783.73 1194.35 789.97 1201.92 796.20 1209.90C802.43 1217.88 808.67 1228.26 814.90 1237.40C821.17 1246.59 827.43 1256.90 833.70 1264.90C839.93 1272.86 846.17 1280.86 852.40 1286.10C858.63 1291.34 864.87 1295.48 871.10 1298.60C877.37 1301.73 883.63 1304.40 889.90 1306.10C898.20 1308.35 906.50 1309.99 914.80 1311.10C923.13 1312.21 931.47 1313.02 939.80 1313.60C946.53 1314.07 953.27 1314.70 960.00 1314.70C974.27 1314.70 988.53 1314.08 1002.80 1313.80C1017.07 1313.52 1031.33 1313.00 1045.60 1313.00C1054.17 1313.00 1062.73 1313.57 1071.30 1314.20C1077.00 1314.62 1082.70 1315.59 1088.40 1316.80C1092.70 1317.71 1097.00 1318.87 1101.30 1321.10C1104.13 1322.57 1106.97 1325.77 1109.80 1329.70C1111.23 1331.69 1112.67 1335.10 1114.10 1338.20C1115.53 1341.30 1116.97 1344.21 1118.40 1348.50C1119.83 1352.79 1121.27 1358.10 1122.70 1365.60C1123.30 1368.74 1123.90 1373.35 1124.50 1378.00L1128.20 845.00C1129.13 851.25 1130.07 857.15 1131.00 862.00C1132.50 869.79 1134.00 876.29 1135.50 882.00C1137.00 887.71 1138.50 892.83 1140.00 897.00C1141.13 886.88 1142.27 877.59 1143.40 870.00C1144.80 860.62 1146.20 852.23 1147.60 845.90L1152.30 1367.00C1153.37 1359.53 1154.43 1352.60 1155.50 1348.30C1157.07 1341.99 1158.63 1338.05 1160.20 1334.30C1161.77 1330.55 1163.33 1327.07 1164.90 1324.90C1168.03 1320.56 1171.17 1317.28 1174.30 1315.50C1177.40 1313.74 1180.50 1312.51 1183.60 1311.80C1189.87 1310.37 1196.13 1309.60 1202.40 1309.00C1211.60 1308.11 1220.80 1307.10 1230.00 1307.10C1246.67 1307.10 1263.33 1307.26 1280.00 1309.10" stroke="#D95319"/>
<path d="M715.00 1158.00C720.00 1159.12 725.00 1161.90 730.00 1165.00C733.33 1167.07 736.67 1170.61 740.00 1173.70C744.17 1177.57 748.33 1181.21 752.50 1186.20C756.67 1191.19 760.83 1197.61 765.00 1204.90C769.17 1212.19 773.33 1222.45 777.50 1231.20C781.67 1239.95 785.83 1249.07 790.00 1257.40C794.13 1265.66 798.27 1275.00 802.40 1281.10C806.57 1287.24 810.73 1292.10 814.90 1296.10C819.07 1300.10 823.23 1303.24 827.40 1306.10C831.57 1308.96 835.73 1311.60 839.90 1313.60C844.07 1315.60 848.23 1317.49 852.40 1318.60C856.57 1319.71 860.73 1320.45 864.90 1321.10C873.23 1322.41 881.57 1323.86 889.90 1324.20C898.20 1324.53 906.50 1324.80 914.80 1324.80C929.87 1324.80 944.93 1323.61 960.00 1322.80C974.27 1322.03 988.53 1320.53 1002.80 1319.90C1017.07 1319.27 1031.33 1318.50 1045.60 1318.50C1053.73 1318.50 1061.87 1319.48 1070.00 1320.50C1074.70 1321.09 1079.40 1322.20 1084.10 1323.70C1086.97 1324.62 1089.83 1326.02 1092.70 1327.90C1095.57 1329.78 1098.43 1332.60 1101.30 1336.50C1103.30 1339.22 1105.30 1343.03 1107.30 1348.50C1108.70 1352.33 1110.10 1359.64 1111.50 1365.60C1112.80 1371.14 1114.10 1376.96 1115.40 1383.00L1118.50 825.80C1119.33 833.03 1120.17 836.00 1121.00 836.00C1121.83 836.00 1122.67 831.30 1123.50 823.20L1124.60 1378.00C1124.93 1364.63 1125.27 1348.32 1125.60 1343.60C1126.83 1326.12 1128.07 1322.26 1129.30 1315.50C1131.50 1303.44 1133.70 1292.52 1135.90 1288.40C1143.93 1289.11 1151.97 1289.82 1160.00 1290.50C1170.00 1291.35 1180.00 1292.22 1190.00 1293.00C1203.33 1294.04 1216.67 1295.21 1230.00 1295.90C1248.50 1296.86 1267.00 1297.28 1285.50 1298.10C1307.30 1299.06 1329.10 1299.99 1350.90 1301.40C1372.73 1302.81 1394.57 1305.02 1416.40 1307.30C1437.60 1309.52 1458.80 1312.35 1480.00 1315.20C1496.67 1317.44 1513.33 1319.62 1530.00 1322.50C1546.67 1325.38 1563.33 1329.21 1580.00 1333.10C1603.33 1338.54 1626.67 1344.87 1650.00 1351.50C1677.80 1359.40 1705.60 1368.05 1733.40 1377.40L1779.40 828.30C1802.93 838.40 1826.47 848.70 1850.00 859.20C1873.67 869.76 1897.33 880.53 1921.00 891.50" stroke="#EDB120"/>
<path d="M1060.00 1311.50C1069.47 1311.50 1078.93 1314.29 1088.40 1317.80C1091.27 1318.86 1094.13 1321.43 1097.00 1323.80C1099.83 1326.14 1102.67 1328.58 1105.50 1332.40C1107.67 1335.32 1109.83 1339.85 1112.00 1345.00C1113.67 1348.96 1115.33 1354.83 1117.00 1360.00C1118.87 1365.79 1120.73 1371.79 1122.60 1378.00L1128.20 828.50C1128.63 856.75 1129.07 924.14 1129.50 1000.00C1129.83 1058.35 1130.17 1222.22 1130.50 1250.00C1130.83 1277.78 1131.17 1300.00 1131.50 1300.00" stroke="#A2142F"/>
<path d="M1280.00 1309.00C1303.63 1309.85 1327.27 1311.93 1350.90 1314.28C1372.73 1316.45 1394.57 1320.27 1416.40 1324.01C1437.60 1327.63 1458.80 1332.21 1480.00 1336.79C1498.33 1340.75 1516.67 1345.06 1535.00 1349.58C1553.33 1354.10 1571.67 1359.29 1590.00 1364.00C1598.43 1366.17 1606.87 1368.18 1615.30 1370.40C1623.73 1372.61 1632.17 1374.91 1640.60 1377.30L1685.50 827.30C1695.50 830.44 1705.50 833.68 1715.50 837.01C1725.50 840.33 1735.50 843.76 1745.50 847.27C1755.50 850.77 1765.50 854.38 1775.50 858.07C1785.50 861.76 1795.50 865.55 1805.50 869.42C1815.50 873.30 1825.50 877.27 1835.50 881.32C1845.50 885.38 1855.50 889.53 1865.50 893.77C1875.50 898.01 1885.50 902.35 1895.50 906.77C1904.00 910.52 1912.50 914.35 1921.00 918.24" stroke="#A2142F"/>
<path d="M1641.00 1374.30L1687.20 823.50C1697.20 826.75 1707.20 830.10 1717.20 833.53C1727.20 836.96 1737.20 840.49 1747.20 844.10C1757.20 847.71 1767.20 851.42 1777.20 855.20C1787.20 858.99 1797.20 862.88 1807.20 866.84C1817.20 870.81 1827.20 874.87 1837.20 879.02C1847.20 883.16 1857.20 887.40 1867.20 891.73C1877.20 896.05 1887.20 900.47 1897.20 904.97C1905.13 908.54 1913.07 912.17 1921.00 915.86" stroke="#D95319"/>
<path d="M1280.00 1309.00C1303.63 1309.69 1327.27 1311.38 1350.90 1313.29C1372.73 1315.06 1394.57 1318.16 1416.40 1321.19C1437.60 1324.13 1458.80 1327.58 1480.00 1331.57C1498.33 1335.03 1516.67 1339.42 1535.00 1343.71C1553.33 1348.00 1571.67 1352.60 1590.00 1357.40C1606.22 1361.65 1622.43 1366.19 1638.65 1370.81C1654.87 1375.44 1671.08 1380.24 1687.30 1385.20L1733.00 834.50C1743.00 838.00 1753.00 841.60 1763.00 845.31C1773.00 849.01 1783.00 852.83 1793.00 856.74C1803.00 860.66 1813.00 864.68 1823.00 868.81C1833.00 872.93 1843.00 877.17 1853.00 881.50C1863.00 885.83 1873.00 890.28 1883.00 894.82C1893.00 899.37 1903.00 904.04 1913.00 908.77C1915.67 910.03 1918.33 911.32 1921.00 912.60" stroke="#7E2F8E"/>
<path d="M1045.00 1321.50C1053.77 1322.50 1062.53 1325.06 1071.30 1327.90C1077.00 1329.75 1082.70 1332.36 1088.40 1335.70C1092.70 1338.22 1097.00 1341.23 1101.30 1345.90C1104.13 1348.98 1106.97 1353.76 1109.80 1359.60C1111.23 1362.55 1112.67 1368.58 1114.10 1371.00C1116.97 1375.84 1119.83 1380.51 1122.70 1381.00L1121.30 838.00C1122.53 854.42 1123.77 872.41 1125.00 892.00C1126.67 918.47 1128.33 943.98 1130.00 980.00C1131.67 1016.02 1133.33 1073.11 1135.00 1120.00C1136.53 1163.14 1138.07 1241.70 1139.60 1250.00C1141.80 1261.91 1144.00 1264.28 1146.20 1268.70C1149.30 1274.93 1152.40 1279.87 1155.50 1282.80C1160.20 1287.24 1164.90 1290.01 1169.60 1292.10C1174.27 1294.18 1178.93 1295.45 1183.60 1296.80C1189.87 1298.61 1196.13 1300.39 1202.40 1301.50C1211.60 1303.14 1220.80 1304.28 1230.00 1305.20C1246.67 1306.86 1263.33 1307.98 1280.00 1309.00C1303.63 1310.44 1327.27 1310.97 1350.90 1312.55C1372.73 1314.02 1394.57 1316.59 1416.40 1319.10C1437.60 1321.54 1458.80 1324.18 1480.00 1327.70C1498.33 1330.74 1516.67 1335.24 1535.00 1339.36C1553.33 1343.47 1571.67 1347.80 1590.00 1352.50C1606.22 1356.66 1622.43 1361.29 1638.65 1365.91C1654.87 1370.54 1671.08 1375.34 1687.30 1380.30L1733.20 830.10C1743.20 833.59 1753.20 837.19 1763.20 840.91C1773.20 844.62 1783.20 848.46 1793.20 852.40C1803.20 856.34 1813.20 860.41 1823.20 864.58C1833.20 868.75 1843.20 873.04 1853.20 877.44C1863.20 881.84 1873.20 886.36 1883.20 890.98C1893.20 895.61 1903.20 900.39 1913.20 905.21C1915.80 906.47 1918.40 907.75 1921.00 909.03" stroke="#4DBEEE"/>
<path d="M250.00 1215.40C278.33 1212.17 306.67 1208.87 335.00 1205.50C363.77 1202.08 392.53 1199.17 421.30 1195.00C444.20 1191.68 467.10 1187.09 490.00 1182.90C513.33 1178.64 536.67 1174.31 560.00 1169.60C580.00 1165.56 600.00 1160.13 620.00 1156.70C633.33 1154.42 646.67 1152.00 660.00 1150.88C671.57 1149.91 683.13 1148.80 694.70 1148.80C701.53 1148.80 708.37 1149.13 715.20 1149.60C721.27 1150.02 727.33 1152.17 733.40 1154.40C737.40 1155.87 741.40 1158.14 745.40 1161.10C749.43 1164.09 753.47 1170.01 757.50 1174.40C760.00 1177.12 762.50 1178.81 765.00 1182.50C769.17 1188.64 773.33 1203.68 777.50 1214.90C781.67 1226.12 785.83 1238.19 790.00 1249.90C794.13 1261.52 798.27 1275.84 802.40 1284.90C806.57 1294.04 810.73 1301.61 814.90 1307.30C819.07 1312.99 823.23 1318.25 827.40 1321.10C831.57 1323.95 835.73 1325.92 839.90 1327.30C844.07 1328.68 848.23 1329.79 852.40 1330.40C856.57 1331.01 860.73 1331.70 864.90 1331.70C873.23 1331.70 881.57 1331.70 889.90 1331.70C898.20 1331.70 906.50 1330.90 914.80 1330.40C923.13 1329.90 931.47 1329.21 939.80 1328.60C946.53 1328.11 953.27 1327.61 960.00 1327.10C974.27 1326.01 988.53 1324.98 1002.80 1323.70C1011.37 1322.93 1019.93 1321.58 1028.50 1321.10C1039.90 1320.46 1051.30 1319.80 1062.70 1319.80C1071.27 1319.80 1079.83 1320.38 1088.40 1321.10C1094.10 1321.58 1099.80 1322.81 1105.50 1324.50C1109.80 1325.77 1114.10 1328.31 1118.40 1331.40C1120.67 1333.03 1122.93 1335.04 1125.20 1338.20C1126.80 1340.43 1128.40 1344.78 1130.00 1348.50C1130.93 1350.67 1131.87 1353.04 1132.80 1355.50L1131.50 821.50" stroke="#4DBEEE"/>
<path d="M250.00 1207.80C278.33 1205.39 306.67 1202.78 335.00 1200.00C363.77 1197.18 392.53 1194.13 421.30 1190.90" stroke="#0072BD"/>
</g>

<text x="1081" y="79" text-anchor="middle" font-family="'Liberation Sans', Arial, Helvetica, sans-serif" font-weight="bold" font-size="57.6" fill="#000" stroke="#000" stroke-width="0.5">Loop gain</text>
<text x="230.5" y="139.5" text-anchor="end" font-family="'Liberation Sans', Arial, Helvetica, sans-serif" font-size="54" fill="#666666" stroke="#666666" stroke-width="0.8">60</text>
<text x="230.5" y="269.4" text-anchor="end" font-family="'Liberation Sans', Arial, Helvetica, sans-serif" font-size="54" fill="#666666" stroke="#666666" stroke-width="0.8">40</text>
<text x="230.5" y="399.3" text-anchor="end" font-family="'Liberation Sans', Arial, Helvetica, sans-serif" font-size="54" fill="#666666" stroke="#666666" stroke-width="0.8">20</text>
<text x="230.5" y="529.2" text-anchor="end" font-family="'Liberation Sans', Arial, Helvetica, sans-serif" font-size="54" fill="#666666" stroke="#666666" stroke-width="0.8">0</text>
<text x="230.5" y="659.1" text-anchor="end" font-family="'Liberation Sans', Arial, Helvetica, sans-serif" font-size="54" fill="#666666" stroke="#666666" stroke-width="0.8">-20</text>
<text x="230.5" y="789.0" text-anchor="end" font-family="'Liberation Sans', Arial, Helvetica, sans-serif" font-size="54" fill="#666666" stroke="#666666" stroke-width="0.8">-40</text>
<text x="230.3" y="844.4" text-anchor="end" font-family="'Liberation Serif', 'Times New Roman', Times, serif" font-size="64" fill="#666666" stroke="#666666" stroke-width="0.6">180</text>
<text x="230.3" y="985.6" text-anchor="end" font-family="'Liberation Serif', 'Times New Roman', Times, serif" font-size="64" fill="#666666" stroke="#666666" stroke-width="0.6">90</text>
<text x="230.3" y="1126.9" text-anchor="end" font-family="'Liberation Serif', 'Times New Roman', Times, serif" font-size="64" fill="#666666" stroke="#666666" stroke-width="0.6">0</text>
<text x="230.3" y="1268.2" text-anchor="end" font-family="'Liberation Serif', 'Times New Roman', Times, serif" font-size="64" fill="#666666" stroke="#666666" stroke-width="0.6">-90</text>
<text x="230.3" y="1409.4" text-anchor="end" font-family="'Liberation Serif', 'Times New Roman', Times, serif" font-size="64" fill="#666666" stroke="#666666" stroke-width="0.6">-180</text>
<text transform="translate(125.4 443.9) rotate(-90)" text-anchor="middle" font-family="'Liberation Sans', Arial, Helvetica, sans-serif" font-size="58.25" fill="#000" stroke="#000" stroke-width="0.7">Magnitude (dB)</text>
<text transform="translate(85.2 1105.2) rotate(-90)" text-anchor="middle" font-family="'Liberation Serif', 'Times New Roman', Times, serif" font-size="58.0" fill="#000" stroke="#000" stroke-width="0.6">Phase (deg)</text>
<text x="901.5" y="1495.4" font-family="'Liberation Serif', 'Times New Roman', Times, serif" font-size="64" fill="#666666" stroke="#666666" stroke-width="0.6">10<tspan dx="-1.5" dy="-32.6" font-size="50" textLength="21" lengthAdjust="spacingAndGlyphs">3</tspan></text>
<text x="1595.4" y="1495.4" font-family="'Liberation Serif', 'Times New Roman', Times, serif" font-size="64" fill="#666666" stroke="#666666" stroke-width="0.6">10<tspan dx="-1.5" dy="-32.6" font-size="50" textLength="21" lengthAdjust="spacingAndGlyphs">4</tspan></text>
<text x="1082.3" y="1565.0" text-anchor="middle" font-family="'Liberation Sans', Arial, Helvetica, sans-serif" font-size="58.2" fill="#000" stroke="#000" stroke-width="0.7" xml:space="preserve">Frequency  (Hz)</text>
</svg>
</body></html>
